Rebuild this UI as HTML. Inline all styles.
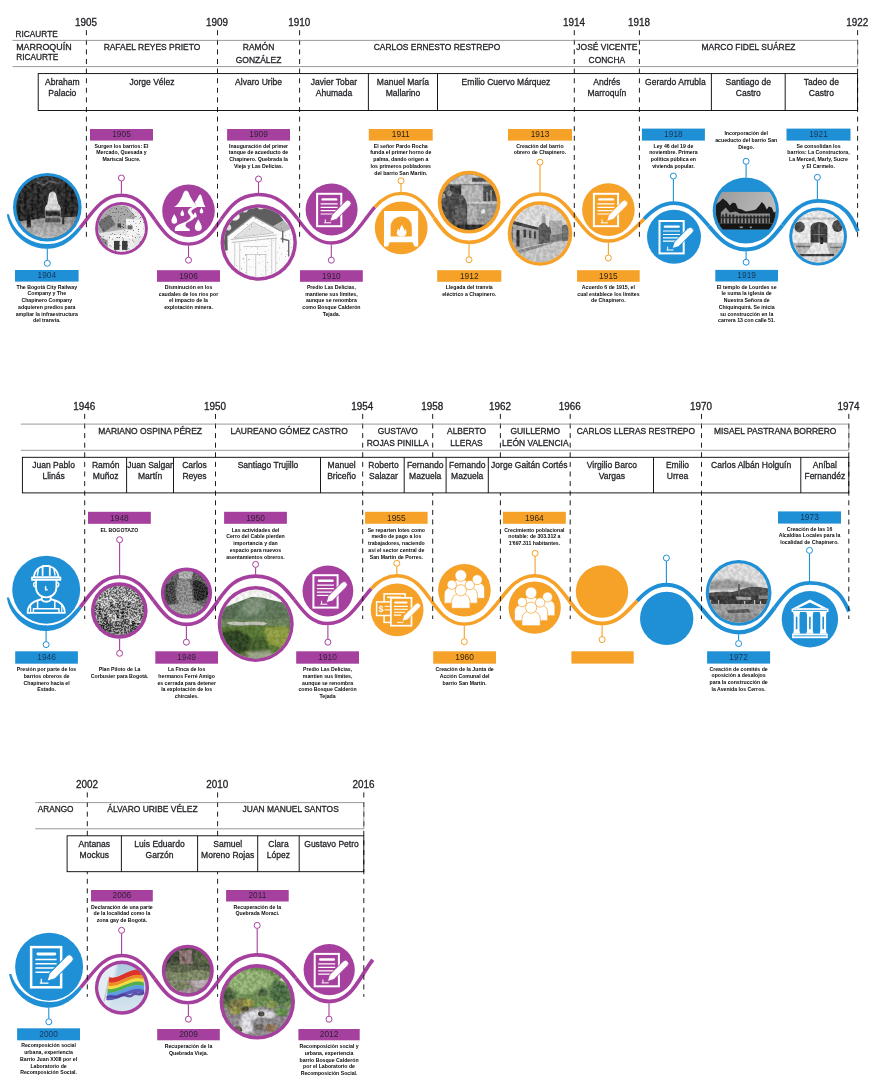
<!DOCTYPE html><html><head><meta charset="utf-8"><title>Timeline</title><style>html,body{margin:0;padding:0;background:#fff}svg{display:block;opacity:0.999}text{font-family:"Liberation Sans",sans-serif}</style></head><body>
<svg width="876" height="1081" viewBox="0 0 876 1081">
<rect width="876" height="1081" fill="#fff"/>
<defs>
<filter id="nz" x="0" y="0" width="100%" height="100%" color-interpolation-filters="sRGB"><feTurbulence type="fractalNoise" baseFrequency="0.3" numOctaves="2" seed="3"/><feColorMatrix type="matrix" values="3.2 0 0 0 -1.1  3.2 0 0 0 -1.1  3.2 0 0 0 -1.1  0 0 0 0 1"/></filter>
<filter id="nz2" x="0" y="0" width="100%" height="100%" color-interpolation-filters="sRGB"><feTurbulence type="fractalNoise" baseFrequency="0.25" numOctaves="3" seed="11"/><feColorMatrix type="matrix" values="3.4 0 0 0 -1.2  3.4 0 0 0 -1.2  3.4 0 0 0 -1.2  0 0 0 0 1"/></filter>
<filter id="sk" x="0" y="0" width="100%" height="100%" color-interpolation-filters="sRGB"><feTurbulence type="fractalNoise" baseFrequency="0.55" numOctaves="2" seed="7"/><feColorMatrix type="matrix" values="0 0 0 0 0.2  0 0 0 0 0.2  0 0 0 0 0.2  -6 0 0 0 2.25"/></filter>
<filter id="sk2" x="0" y="0" width="100%" height="100%" color-interpolation-filters="sRGB"><feTurbulence type="fractalNoise" baseFrequency="0.5" numOctaves="2" seed="21"/><feColorMatrix type="matrix" values="0 0 0 0 0.35  0 0 0 0 0.35  0 0 0 0 0.35  -6 0 0 0 1.95"/></filter>
<filter id="nzc" x="0" y="0" width="100%" height="100%" color-interpolation-filters="sRGB"><feTurbulence type="fractalNoise" baseFrequency="0.55" numOctaves="2" seed="5"/><feColorMatrix type="matrix" values="5 0 0 0 -2  5 0 0 0 -2  5 0 0 0 -2  0 0 0 0 1"/></filter>
<filter id="bl" x="-10%" y="-10%" width="120%" height="120%"><feGaussianBlur stdDeviation="0.7"/></filter>
<filter id="bl2" x="-10%" y="-10%" width="120%" height="120%"><feGaussianBlur stdDeviation="1.3"/></filter>
<linearGradient id="gRoad" x1="0" y1="0" x2="0" y2="1"><stop offset="0" stop-color="#8d8d8d"/><stop offset="1" stop-color="#d0d0d0"/></linearGradient>
<linearGradient id="gSky" x1="0" y1="0" x2="0" y2="1"><stop offset="0" stop-color="#dcdcdc"/><stop offset="1" stop-color="#f2f2f2"/></linearGradient>
<linearGradient id="gCh" x1="0" y1="0" x2="0" y2="1"><stop offset="0" stop-color="#b4b4b4"/><stop offset="0.45" stop-color="#7a7a7a"/><stop offset="0.5" stop-color="#2a2a2a"/><stop offset="1" stop-color="#111"/></linearGradient>
<linearGradient id="gBlue" x1="0" y1="0" x2="0" y2="1"><stop offset="0" stop-color="#a9c8e0"/><stop offset="1" stop-color="#dbe7f1"/></linearGradient>
<linearGradient id="gCh2" x1="0" y1="0" x2="1" y2="0.3"><stop offset="0" stop-color="#989898"/><stop offset="1" stop-color="#bebebe"/></linearGradient>
</defs>
<path d="M9.00 214.30L9.47 215.97L10.01 217.63L10.63 219.25L11.31 220.85L12.07 222.42L12.89 223.95L13.78 225.44L14.74 226.89L15.76 228.30L16.83 229.67L17.97 230.98L19.17 232.25L20.42 233.46L21.72 234.61L23.07 235.71L24.46 236.74L25.91 237.71L27.39 238.62L28.91 239.46L30.47 240.24L32.06 240.94L33.67 241.58L35.32 242.14L36.99 242.63L38.68 243.05L40.38 243.39L42.10 243.66L43.83 243.85L45.56 243.96L47.30 244.00L48.68 244.02L50.03 243.97L51.34 243.87L52.62 243.72L53.87 243.52L55.10 243.28L56.29 242.99L57.46 242.65L58.61 242.27L59.73 241.86L60.83 241.40L61.91 240.90L62.96 240.36L64.00 239.79L65.02 239.18L66.02 238.54L67.01 237.87L67.98 237.16L68.94 236.42L69.88 235.66L70.80 234.86L71.72 234.04L72.62 233.20L73.51 232.33L74.39 231.44L75.26 230.53L76.12 229.60L76.97 228.65L77.81 227.69L78.65 226.71L81.35 228.94L80.52 229.97L79.67 230.98L78.82 231.99L77.95 232.98L77.06 233.96L76.16 234.92L75.25 235.87L74.32 236.79L73.37 237.70L72.40 238.58L71.41 239.44L70.39 240.27L69.36 241.07L68.30 241.85L67.21 242.60L66.10 243.31L64.96 243.98L63.79 244.63L62.59 245.23L61.37 245.79L60.11 246.31L58.82 246.78L57.50 247.21L56.14 247.59L54.75 247.92L53.33 248.21L51.88 248.43L50.39 248.61L48.86 248.73L47.30 248.80L45.37 248.75L43.45 248.62L41.53 248.39L39.63 248.08L37.74 247.67L35.88 247.18L34.04 246.60L32.23 245.93L30.45 245.18L28.71 244.34L27.01 243.43L25.36 242.44L23.75 241.37L22.20 240.22L20.70 239.01L19.26 237.72L17.88 236.37L16.57 234.95L15.33 233.48L14.15 231.95L13.05 230.36L12.03 228.73L11.08 227.05L10.22 225.32L9.43 223.56L8.73 221.76L8.12 219.93L7.59 218.08L7.15 216.20L6.80 214.30Z" fill="#2090D6"/>
<path d="M80.00 227.83C92.06 213.21 101.62 195.30 121.50 195.30C137.91 195.30 146.42 207.50 154.94 219.70" fill="none" stroke="#A6409E" stroke-width="3.5" stroke-linecap="butt"/>
<path d="M154.94 219.70C163.47 231.90 172.02 244.10 188.50 244.10C205.10 244.10 212.71 231.72 221.14 219.35" fill="none" stroke="#A6409E" stroke-width="3.4" stroke-linecap="butt"/>
<path d="M221.14 219.35C229.57 206.97 238.82 194.60 258.70 194.60C278.36 194.60 288.37 206.70 297.58 218.80" fill="none" stroke="#A6409E" stroke-width="3.5" stroke-linecap="butt"/>
<path d="M297.58 218.80C306.79 230.90 315.19 243.00 331.60 243.00C353.33 243.00 361.98 221.79 374.80 207.11" fill="none" stroke="#A6409E" stroke-width="3.4" stroke-linecap="butt"/>
<path d="M374.80 207.11C381.58 199.34 389.53 193.40 401.20 193.40C417.94 193.40 425.88 205.62 434.15 217.85" fill="none" stroke="#F6A128" stroke-width="3.4" stroke-linecap="butt"/>
<path d="M434.15 217.85C442.42 230.08 451.02 242.30 469.10 242.30C487.07 242.30 495.88 230.23 504.65 218.15" fill="none" stroke="#F6A128" stroke-width="3.8" stroke-linecap="butt"/>
<path d="M504.65 218.15C513.43 206.07 522.17 194.00 540.00 194.00C557.61 194.00 566.85 205.78 575.61 217.55" fill="none" stroke="#F6A128" stroke-width="3.7" stroke-linecap="butt"/>
<path d="M575.61 217.55C584.38 229.32 592.68 241.10 608.40 241.10C624.10 241.10 633.62 229.36 644.00 218.95" fill="none" stroke="#F6A128" stroke-width="3.5" stroke-linecap="butt"/>
<path d="M644.00 218.95C652.27 210.65 661.08 203.20 674.00 203.20C690.08 203.20 699.38 214.75 708.98 226.30" fill="none" stroke="#2090D6" stroke-width="3.7" stroke-linecap="butt"/>
<path d="M708.98 226.30C718.59 237.85 728.49 249.40 745.80 249.40C763.53 249.40 773.13 237.28 782.53 225.15" fill="none" stroke="#2090D6" stroke-width="4.0" stroke-linecap="butt"/>
<path d="M782.53 225.15C791.93 213.03 801.14 200.90 818.10 200.90C847.40 200.90 853.45 221.77 857.90 231.32" fill="none" stroke="#2090D6" stroke-width="3.9" stroke-linecap="butt"/>
<text transform="translate(86.00,25.70) scale(0.99,1)" font-size="10" text-anchor="middle" font-weight="normal" fill="#1e1f24" stroke="#1e1f24" stroke-width="0.3">1905</text>
<line x1="86.4" y1="30.2" x2="86.4" y2="236.8" stroke="#111" stroke-width="0.95" stroke-dasharray="5 4.6"/>
<text transform="translate(217.10,25.70) scale(0.99,1)" font-size="10" text-anchor="middle" font-weight="normal" fill="#1e1f24" stroke="#1e1f24" stroke-width="0.3">1909</text>
<line x1="217.5" y1="30.2" x2="217.5" y2="236.8" stroke="#111" stroke-width="0.95" stroke-dasharray="5 4.6"/>
<text transform="translate(299.20,25.70) scale(0.99,1)" font-size="10" text-anchor="middle" font-weight="normal" fill="#1e1f24" stroke="#1e1f24" stroke-width="0.3">1910</text>
<line x1="299.6" y1="30.2" x2="299.6" y2="236.8" stroke="#111" stroke-width="0.95" stroke-dasharray="5 4.6"/>
<text transform="translate(573.90,25.70) scale(0.99,1)" font-size="10" text-anchor="middle" font-weight="normal" fill="#1e1f24" stroke="#1e1f24" stroke-width="0.3">1914</text>
<line x1="574.3" y1="30.2" x2="574.3" y2="236.8" stroke="#111" stroke-width="0.95" stroke-dasharray="5 4.6"/>
<text transform="translate(639.00,25.70) scale(0.99,1)" font-size="10" text-anchor="middle" font-weight="normal" fill="#1e1f24" stroke="#1e1f24" stroke-width="0.3">1918</text>
<line x1="639.4" y1="30.2" x2="639.4" y2="236.8" stroke="#111" stroke-width="0.95" stroke-dasharray="5 4.6"/>
<text transform="translate(857.20,25.70) scale(0.99,1)" font-size="10" text-anchor="middle" font-weight="normal" fill="#1e1f24" stroke="#1e1f24" stroke-width="0.3">1922</text>
<line x1="857.6" y1="30.2" x2="857.6" y2="236.8" stroke="#111" stroke-width="0.95" stroke-dasharray="5 4.6"/>
<path d="M12.5 40.4H857.6M12.5 66.6H857.6" stroke="#7a7a7a" stroke-width="0.75" fill="none"/>
<path d="M857.6 40.4V66.6" stroke="#7a7a7a" stroke-width="0.75" fill="none"/>
<text transform="translate(151.95,50.20) scale(0.93,1)" font-size="9.1" text-anchor="middle" font-weight="normal" fill="#1e1f24" stroke="#1e1f24" stroke-width="0.3">RAFAEL REYES PRIETO</text>
<text transform="translate(258.55,50.20) scale(0.93,1)" font-size="9.1" text-anchor="middle" font-weight="normal" fill="#1e1f24" stroke="#1e1f24" stroke-width="0.3">RAMÓN</text>
<text transform="translate(258.55,62.60) scale(0.93,1)" font-size="9.1" text-anchor="middle" font-weight="normal" fill="#1e1f24" stroke="#1e1f24" stroke-width="0.3">GONZÁLEZ</text>
<text transform="translate(436.95,50.20) scale(0.93,1)" font-size="9.1" text-anchor="middle" font-weight="normal" fill="#1e1f24" stroke="#1e1f24" stroke-width="0.3">CARLOS ERNESTO RESTREPO</text>
<text transform="translate(606.85,50.20) scale(0.93,1)" font-size="9.1" text-anchor="middle" font-weight="normal" fill="#1e1f24" stroke="#1e1f24" stroke-width="0.3">JOSÉ VICENTE</text>
<text transform="translate(606.85,62.60) scale(0.93,1)" font-size="9.1" text-anchor="middle" font-weight="normal" fill="#1e1f24" stroke="#1e1f24" stroke-width="0.3">CONCHA</text>
<text transform="translate(748.50,50.20) scale(0.93,1)" font-size="9.1" text-anchor="middle" font-weight="normal" fill="#1e1f24" stroke="#1e1f24" stroke-width="0.3">MARCO FIDEL SUÁREZ</text>
<text transform="translate(15.60,37.20) scale(0.91,1)" font-size="9.1" text-anchor="start" font-weight="normal" fill="#1e1f24" stroke="#1e1f24" stroke-width="0.3">RICAURTE</text>
<text transform="translate(16.20,50.30) scale(0.98,1)" font-size="9.1" text-anchor="start" font-weight="normal" fill="#1e1f24" stroke="#1e1f24" stroke-width="0.3">MARROQUÍN</text>
<text transform="translate(16.20,59.80) scale(0.91,1)" font-size="9.1" text-anchor="start" font-weight="normal" fill="#1e1f24" stroke="#1e1f24" stroke-width="0.3">RICAURTE</text>
<rect x="39.40" y="73.60" width="45.80" height="36.9" fill="#fff"/>
<rect x="87.60" y="73.60" width="128.70" height="36.9" fill="#fff"/>
<rect x="218.70" y="73.60" width="79.70" height="36.9" fill="#fff"/>
<rect x="300.80" y="73.60" width="66.40" height="36.9" fill="#fff"/>
<rect x="369.60" y="73.60" width="66.70" height="36.9" fill="#fff"/>
<rect x="438.70" y="73.60" width="134.40" height="36.9" fill="#fff"/>
<rect x="575.50" y="73.60" width="62.70" height="36.9" fill="#fff"/>
<rect x="640.60" y="73.60" width="69.60" height="36.9" fill="#fff"/>
<rect x="712.60" y="73.60" width="71.40" height="36.9" fill="#fff"/>
<rect x="786.40" y="73.60" width="70.00" height="36.9" fill="#fff"/>
<rect x="38.2" y="73.6" width="819.4" height="36.9" fill="none" stroke="#000" stroke-width="0.9"/>
<path d="M368.4 73.6V110.5M437.5 73.6V110.5M711.4 73.6V110.5M785.2 73.6V110.5" stroke="#000" stroke-width="0.9" fill="none"/>
<text transform="translate(62.30,85.00) scale(0.9,1)" font-size="9.5" text-anchor="middle" font-weight="normal" fill="#1e1f24" stroke="#1e1f24" stroke-width="0.3">Abraham</text>
<text transform="translate(62.30,95.90) scale(0.9,1)" font-size="9.5" text-anchor="middle" font-weight="normal" fill="#1e1f24" stroke="#1e1f24" stroke-width="0.3">Palacio</text>
<text transform="translate(151.95,85.00) scale(0.9,1)" font-size="9.5" text-anchor="middle" font-weight="normal" fill="#1e1f24" stroke="#1e1f24" stroke-width="0.3">Jorge Vélez</text>
<text transform="translate(258.55,85.00) scale(0.9,1)" font-size="9.5" text-anchor="middle" font-weight="normal" fill="#1e1f24" stroke="#1e1f24" stroke-width="0.3">Alvaro Uribe</text>
<text transform="translate(334.00,85.00) scale(0.9,1)" font-size="9.5" text-anchor="middle" font-weight="normal" fill="#1e1f24" stroke="#1e1f24" stroke-width="0.3">Javier Tobar</text>
<text transform="translate(334.00,95.90) scale(0.9,1)" font-size="9.5" text-anchor="middle" font-weight="normal" fill="#1e1f24" stroke="#1e1f24" stroke-width="0.3">Ahumada</text>
<text transform="translate(402.95,85.00) scale(0.9,1)" font-size="9.5" text-anchor="middle" font-weight="normal" fill="#1e1f24" stroke="#1e1f24" stroke-width="0.3">Manuel María</text>
<text transform="translate(402.95,95.90) scale(0.9,1)" font-size="9.5" text-anchor="middle" font-weight="normal" fill="#1e1f24" stroke="#1e1f24" stroke-width="0.3">Mallarino</text>
<text transform="translate(505.90,85.00) scale(0.9,1)" font-size="9.5" text-anchor="middle" font-weight="normal" fill="#1e1f24" stroke="#1e1f24" stroke-width="0.3">Emilio Cuervo Márquez</text>
<text transform="translate(606.85,85.00) scale(0.9,1)" font-size="9.5" text-anchor="middle" font-weight="normal" fill="#1e1f24" stroke="#1e1f24" stroke-width="0.3">Andrés</text>
<text transform="translate(606.85,95.90) scale(0.9,1)" font-size="9.5" text-anchor="middle" font-weight="normal" fill="#1e1f24" stroke="#1e1f24" stroke-width="0.3">Marroquín</text>
<text transform="translate(675.40,85.00) scale(0.9,1)" font-size="9.5" text-anchor="middle" font-weight="normal" fill="#1e1f24" stroke="#1e1f24" stroke-width="0.3">Gerardo Arrubla</text>
<text transform="translate(748.30,85.00) scale(0.9,1)" font-size="9.5" text-anchor="middle" font-weight="normal" fill="#1e1f24" stroke="#1e1f24" stroke-width="0.3">Santiago de</text>
<text transform="translate(748.30,95.90) scale(0.9,1)" font-size="9.5" text-anchor="middle" font-weight="normal" fill="#1e1f24" stroke="#1e1f24" stroke-width="0.3">Castro</text>
<text transform="translate(821.40,85.00) scale(0.9,1)" font-size="9.5" text-anchor="middle" font-weight="normal" fill="#1e1f24" stroke="#1e1f24" stroke-width="0.3">Tadeo de</text>
<text transform="translate(821.40,95.90) scale(0.9,1)" font-size="9.5" text-anchor="middle" font-weight="normal" fill="#1e1f24" stroke="#1e1f24" stroke-width="0.3">Castro</text>
<line x1="47.3" y1="248.6" x2="47.3" y2="260.3" stroke="#2090D6" stroke-width="1.1"/>
<circle cx="47.3" cy="263.3" r="3.0" fill="#fff" stroke="#2090D6" stroke-width="1"/>
<line x1="121.4" y1="193.6" x2="121.4" y2="181.0" stroke="#A6409E" stroke-width="1.1"/>
<circle cx="121.4" cy="178" r="3.0" fill="#fff" stroke="#A6409E" stroke-width="1"/>
<line x1="188.5" y1="245.8" x2="188.5" y2="257.2" stroke="#A6409E" stroke-width="1.1"/>
<circle cx="188.5" cy="260.2" r="3.0" fill="#fff" stroke="#A6409E" stroke-width="1"/>
<line x1="258.5" y1="192.9" x2="258.5" y2="182.0" stroke="#A6409E" stroke-width="1.1"/>
<circle cx="258.5" cy="179" r="3.0" fill="#fff" stroke="#A6409E" stroke-width="1"/>
<line x1="331.3" y1="244.7" x2="331.3" y2="257.2" stroke="#A6409E" stroke-width="1.1"/>
<circle cx="331.3" cy="260.2" r="3.0" fill="#fff" stroke="#A6409E" stroke-width="1"/>
<line x1="401" y1="191.7" x2="401" y2="183.8" stroke="#F6A128" stroke-width="1.1"/>
<circle cx="401" cy="180.8" r="3.0" fill="#fff" stroke="#F6A128" stroke-width="1"/>
<line x1="469" y1="244.2" x2="469" y2="256.7" stroke="#F6A128" stroke-width="1.1"/>
<circle cx="469" cy="259.7" r="3.0" fill="#fff" stroke="#F6A128" stroke-width="1"/>
<line x1="540" y1="192.2" x2="540" y2="165.2" stroke="#F6A128" stroke-width="1.1"/>
<circle cx="540" cy="162.2" r="3.0" fill="#fff" stroke="#F6A128" stroke-width="1"/>
<line x1="608.4" y1="242.8" x2="608.4" y2="255.0" stroke="#F6A128" stroke-width="1.1"/>
<circle cx="608.4" cy="258" r="3.0" fill="#fff" stroke="#F6A128" stroke-width="1"/>
<line x1="673.4" y1="201.4" x2="673.4" y2="179.0" stroke="#2090D6" stroke-width="1.1"/>
<circle cx="673.4" cy="176" r="3.0" fill="#fff" stroke="#2090D6" stroke-width="1"/>
<line x1="746.1" y1="177.6" x2="746.1" y2="164.3" stroke="#2090D6" stroke-width="1.1"/>
<circle cx="746.1" cy="161.3" r="3.0" fill="#fff" stroke="#2090D6" stroke-width="1"/>
<line x1="746.1" y1="251.4" x2="746.1" y2="259.2" stroke="#2090D6" stroke-width="1.1"/>
<circle cx="746.1" cy="262.2" r="3.0" fill="#fff" stroke="#2090D6" stroke-width="1"/>
<line x1="817.4" y1="199" x2="817.4" y2="180.3" stroke="#2090D6" stroke-width="1.1"/>
<circle cx="817.4" cy="177.3" r="3.0" fill="#fff" stroke="#2090D6" stroke-width="1"/>
<circle cx="47.3" cy="207.3" r="34.3" fill="#2090D6"/>
<clipPath id="c1"><circle cx="0" cy="0" r="31.10"/></clipPath>
<g transform="translate(47.3,207.3)" clip-path="url(#c1)"><rect x="-35" y="-35" width="70" height="70" fill="#242424"/><path d="M-35 15L-5 11L35 9V35H-35Z" fill="url(#gRoad)"/><path d="M-35 -35H35V-24L-35 -18Z" fill="#2e2e2e"/><path d="M-28 -30V14M-22 -30V13M-15 -28V12M-9 -24V11M19 -28V9M25 -24V9" stroke="#141414" stroke-width="2.2"/><path d="M-12 -26L-4 -22L2 -26L12 -24" stroke="#555" stroke-width="1.5" fill="none"/><path d="M1.5 -12C2.5 -17 8 -17 9 -12L11 -3C13 -2 13.5 1 13.5 3H-2.5C-2.5 1 -2 -2 0 -3Z" fill="#e4e4e4" filter="url(#bl)"/><rect x="-2.5" y="2.5" width="16" height="13" fill="#8a8a8a"/><rect x="-1.5" y="4" width="14" height="4.5" fill="#1d1d1d"/><rect x="-2" y="11" width="15" height="4" fill="#4c4c4c"/><rect x="-20.5" y="9" width="4" height="11" fill="#161616"/><rect x="15" y="4" width="2" height="13" fill="#1f1f1f"/><rect x="-34.3" y="-34.3" width="68.6" height="68.6" filter="url(#nz)" opacity="0.12"/></g>
<circle cx="121.5" cy="228.4" r="26.4" fill="#A6409E"/>
<clipPath id="c2"><circle cx="0" cy="0" r="23.40"/></clipPath>
<g transform="translate(121.5,228.4)" clip-path="url(#c2)"><rect x="-30" y="-30" width="60" height="60" fill="#e6e6e6"/><path d="M-30 -16L-10 -24L6 -22L14 -12L8 0L-30 6Z" fill="#a8a8a8"/><path d="M-24 -6L-12 -14L-6 -4L-18 4Z" fill="#6f6f6f"/><path d="M4 -10L22 -8L24 8L6 6Z" fill="#f4f4f4"/><rect x="-12" y="7" width="24" height="3" fill="#fafafa"/><rect x="-12" y="10" width="24" height="14" fill="#efefef"/><rect x="-7.5" y="12.5" width="5.5" height="9" fill="#3c3c3c"/><rect x="0.5" y="12.5" width="5.5" height="9" fill="#3c3c3c"/><rect x="-4" y="-5" width="3.5" height="4" fill="#444"/><rect x="6" y="-3" width="5" height="4" fill="#666"/><path d="M-26 6L-14 12V24H-26Z" fill="#8a8a8a"/><rect x="-26.4" y="-26.4" width="52.8" height="52.8" filter="url(#sk)" opacity="0.8"/></g>
<circle cx="188.5" cy="210.7" r="26.3" fill="#A6409E"/>
<g transform="translate(188.5,210.7)"><path d="M-14.6 -3.6 C-9.5 -6.5 -6.8 -13 -5 -18 Q-2.4 -22.6 0.2 -18 C2 -13 5.5 -7 10.4 -3.6 Z" fill="#fff"/><path d="M6.2 -8.5 C8 -10.5 9.3 -13 10.2 -15 Q11.7 -17.6 13 -15 C14 -11.5 15 -7 17 -3.6 H8.5 Z" fill="#fff"/><path d="M3.6 -3.6 H8.8 C5 -1.5 2.6 -0.8 3 1.2 C3.6 3.6 7.2 4.2 5.6 7.2 C4 10.2 -1 10.6 -2.6 13.2 C-3.8 15.4 -1.6 17.2 1.2 18.2 V20.4 H-13.4 C-14.4 17.6 -12.8 15 -9 13.6 C-4 11.8 1.6 9.4 2 6.6 C2.3 4.4 -1.2 3.4 -0.6 0.4 C0 -1.8 2.4 -2.6 3.6 -3.6Z" fill="#fff"/><path transform="translate(-14.2,8.2) scale(0.95)" d="M0 -5.2 C2 -1.5 3 0 3 2 A3 3 0 0 1 -3 2 C-3 0 -2 -1.5 0 -5.2Z" fill="#fff"/><path transform="translate(9.8,14.6) scale(1.15)" d="M0 -5.2 C2 -1.5 3 0 3 2 A3 3 0 0 1 -3 2 C-3 0 -2 -1.5 0 -5.2Z" fill="#fff"/><path transform="translate(-6.2,2.2) scale(0.62)" d="M0 -5.2 C2 -1.5 3 0 3 2 A3 3 0 0 1 -3 2 C-3 0 -2 -1.5 0 -5.2Z" fill="#fff"/><path transform="translate(6.6,4.2) scale(0.55)" d="M0 -5.2 C2 -1.5 3 0 3 2 A3 3 0 0 1 -3 2 C-3 0 -2 -1.5 0 -5.2Z" fill="#fff"/><path transform="translate(13,-0.2) scale(0.6)" d="M0 -5.2 C2 -1.5 3 0 3 2 A3 3 0 0 1 -3 2 C-3 0 -2 -1.5 0 -5.2Z" fill="#fff"/></g>
<circle cx="258.7" cy="242.5" r="38.2" fill="#A6409E"/>
<clipPath id="c3"><circle cx="0" cy="0" r="34.70"/></clipPath>
<g transform="translate(258.7,242.5)" clip-path="url(#c3)"><rect x="-40" y="-40" width="80" height="80" fill="#fbfbfb"/><path d="M-38 -4L-34 -14L-20 -31L-9 -37L10 -36L19 -30L25 -22L14 -16L-5.7 -26.5L-31.3 -6.4L-31 8H-38Z" fill="#5e5e5e"/><path d="M14 -16L25 -22L33 -14L24 -10Z" fill="#b5b5b5"/><path d="M-24 -22A5 4 0 1 1 -23.9 -22Z" fill="#f0f0f0"/><path d="M-14 -30A3 2.5 0 1 1 -13.9 -30ZM2 -33A3 2 0 1 1 2.1 -33ZM-30 -12A2.5 3 0 1 1 -29.9 -12Z" fill="#dcdcdc"/><path d="M-31.3 -6.4L-5.7 -26.5L22 -11.6" fill="none" stroke="#8f8f8f" stroke-width="1.2"/><path d="M-25 -4.5L-5.7 -20.5L15 -9.5Z" fill="#e2e2e2" stroke="#b0b0b0" stroke-width="0.6"/><path d="M-28 -3L18 -7.5M-27 0L18 -4.5" stroke="#a8a8a8" stroke-width="0.7"/><path d="M-24 0V38M-19 0V38M13 -4V38M17 -4V38M-15 4H9M-13 12H8M-12 12V38M7 12V38M-3 12V38" stroke="#c4c4c4" stroke-width="0.8" fill="none"/><path d="M24 -12V0M22 -4L30 -2V14" stroke="#6a6a6a" stroke-width="1.4" fill="none"/><rect x="-38.2" y="-38.2" width="76.4" height="76.4" filter="url(#sk2)" opacity="0.5"/></g>
<circle cx="331.6" cy="209.6" r="26" fill="#A6409E"/>
<g transform="translate(331.6,209.6) scale(1.0)"><rect x="-14.5" y="-15.8" width="24.2" height="32.4" fill="none" stroke="#fff" stroke-width="2"/><path d="M-9 -10.2H4.6" stroke="#fff" stroke-width="2.4" stroke-linecap="round"/><path d="M-11 -5.8H6M-11 -2.3H6M-11 1.1H5M-11 4.4H2" stroke="#fff" stroke-width="1.2"/><path d="M-7.5 13.2H-0.5M-6.3 13V9.8" stroke="#fff" stroke-width="1" fill="none"/><g transform="translate(-1.8,11.8) rotate(-45)"><path d="M0 0L6 -3.2H25.5A3.2 3.2 0 0 1 25.5 3.2H6Z" fill="#fff" stroke="#A6409E" stroke-width="0.9"/></g></g>
<circle cx="401.2" cy="227.8" r="26.4" fill="#F6A128"/>
<g transform="translate(401.2,227.8)"><path d="M-17.2 -16.8H17V18.8H13.2L11.5 14.5H-11.5L-13.2 18.8H-17.2Z" fill="#fff"/><path d="M-10.6 8.8V-1 A10.6 10.2 0 0 1 10.6 -1V8.8Z" fill="#F6A128"/><path d="M-1 8.8C-5.5 8 -5 3.5 -2.6 0.8 C-2.2 2.2 -1.5 2.6 -1.2 2.6 C-1.6 0 0 -2.2 1 -3 C1 -1 3.2 0.6 3.4 3 C4 2.6 4.2 1.8 4.2 1.2 C6.2 4 5.6 8.2 1.6 8.8Z" fill="#fff"/></g>
<circle cx="469.1" cy="202.2" r="31.4" fill="#F6A128"/>
<clipPath id="c4"><circle cx="0" cy="0" r="27.60"/></clipPath>
<g transform="translate(469.1,202.2)" clip-path="url(#c4)"><rect x="-33" y="-33" width="66" height="66" fill="#6a6a6a"/><path d="M-20 -26L-8 -29H20L26 -24V-18H-20Z" fill="#c9c9c9"/><rect x="3" y="-24.5" width="14" height="4" fill="#4a4a4a"/><rect x="-19" y="-16.5" width="11" height="9" fill="#2f2f2f"/><rect x="-7.8" y="-17" width="21.6" height="16.5" fill="#b9b9b9"/><rect x="14.8" y="-16" width="13" height="15.5" fill="#474747"/><path d="M18 -10V-1M22 -12V-1" stroke="#9a9a9a" stroke-width="1.6"/><rect x="-7" y="-0.5" width="36" height="23" fill="#9c9c9c"/><rect x="-7" y="-0.8" width="36" height="2.4" fill="#d2d2d2"/><rect x="-2" y="4" width="10" height="16" fill="#b4b4b4"/><path d="M-28 -8C-24 -13 -16 -12 -12 -8L-8 -6C-4 -6 -2 0 -2 6V26H-26Z" fill="#444" filter="url(#bl)"/><circle cx="-20" cy="-9" r="2.8" fill="#8e8e8e"/><circle cx="-8" cy="-4.5" r="2.6" fill="#5a5a5a"/><circle cx="-26" cy="-6" r="2.4" fill="#a0a0a0"/><path d="M-14 4L-4 2L-3 20L-14 22Z" fill="#5c5c5c"/><rect x="-12" y="22.5" width="32" height="8" fill="#262626"/><circle cx="13.8" cy="9" r="2.3" fill="#eaeaea"/><rect x="-31.4" y="-31.4" width="62.8" height="62.8" filter="url(#nz)" opacity="0.12"/></g>
<circle cx="540" cy="233.5" r="32.3" fill="#F6A128"/>
<clipPath id="c5"><circle cx="0" cy="0" r="28.70"/></clipPath>
<g transform="translate(540,233.5)" clip-path="url(#c5)"><rect x="-34" y="-34" width="68" height="68" fill="url(#gSky)"/><path d="M9 -13L22.5 -13V-6L30 -8V8L9 10Z" fill="#ababab"/><path d="M2 -20L5 -20L6 -8H1Z" fill="#b0b0b0"/><path d="M22 -8C26 -10 30 -8 30 -2V7L22 8Z" fill="#6e6e6e" filter="url(#bl)"/><path d="M-28 -12L-1.5 -5V12L-28 17Z" fill="#a9a9a9"/><path d="M-28 -13L-1.5 -6L-1.5 -3.6L-28 -9.5Z" fill="#3c3c3c"/><rect x="-23.5" y="-3.5" width="3" height="16.5" fill="#262626"/><rect x="-16.5" y="-4" width="2.6" height="8" fill="#3a3a3a"/><rect x="-11" y="-3" width="2.4" height="7.5" fill="#444"/><rect x="-6" y="-2" width="2.2" height="7" fill="#4a4a4a"/><path d="M-28 -12V17" stroke="#777" stroke-width="2"/><path d="M-1.5 -6C1 -12 6 -12 8 -6C11 -8 12 -2 10 2V9L-1.5 11Z" fill="#565656" filter="url(#bl)"/><path d="M10 2L22 0V7L10 9Z" fill="#7a7a7a"/><path d="M-30 17L-1.5 11L30 7V36H-30Z" fill="#cacaca"/><path d="M-26 17.5L-1.5 11.5L14 9L-20 20Z" fill="#8c8c8c"/><rect x="-32.3" y="-32.3" width="64.6" height="64.6" filter="url(#nz)" opacity="0.1"/></g>
<circle cx="608.4" cy="209.6" r="26.3" fill="#F6A128"/>
<g transform="translate(608.4,209.6) scale(1.0)"><rect x="-14.5" y="-15.8" width="24.2" height="32.4" fill="none" stroke="#fff" stroke-width="2"/><path d="M-9 -10.2H4.6" stroke="#fff" stroke-width="2.4" stroke-linecap="round"/><path d="M-11 -5.8H6M-11 -2.3H6M-11 1.1H5M-11 4.4H2" stroke="#fff" stroke-width="1.2"/><path d="M-7.5 13.2H-0.5M-6.3 13V9.8" stroke="#fff" stroke-width="1" fill="none"/><g transform="translate(-1.8,11.8) rotate(-45)"><path d="M0 0L6 -3.2H25.5A3.2 3.2 0 0 1 25.5 3.2H6Z" fill="#fff" stroke="#F6A128" stroke-width="0.9"/></g></g>
<circle cx="674" cy="236.8" r="27" fill="#2090D6"/>
<g transform="translate(674,236.8) scale(1.0)"><rect x="-14.5" y="-15.8" width="24.2" height="32.4" fill="none" stroke="#fff" stroke-width="2"/><path d="M-9 -10.2H4.6" stroke="#fff" stroke-width="2.4" stroke-linecap="round"/><path d="M-11 -5.8H6M-11 -2.3H6M-11 1.1H5M-11 4.4H2" stroke="#fff" stroke-width="1.2"/><path d="M-7.5 13.2H-0.5M-6.3 13V9.8" stroke="#fff" stroke-width="1" fill="none"/><g transform="translate(-1.8,11.8) rotate(-45)"><path d="M0 0L6 -3.2H25.5A3.2 3.2 0 0 1 25.5 3.2H6Z" fill="#fff" stroke="#2090D6" stroke-width="0.9"/></g></g>
<circle cx="745.8" cy="210.5" r="33.1" fill="#2090D6"/>
<clipPath id="c6"><circle cx="0" cy="0" r="30.10"/></clipPath>
<g transform="translate(745.8,210.5)" clip-path="url(#c6)"><rect x="-34" y="-18.6" width="68" height="37.3" fill="url(#gCh2)"/><path d="M-30 13L-30 -6L-26 -9L-23 -12L-19 -9L-16 -5L-13 -8L-10 -7L-8 -2L-4 -1L0 1L6 0L10 -1L13.5 -5L16 -8.5L18.5 -6L21 -1L23 -4L26 -3L28 2L30 1V13Z" fill="#1b1b1b"/><path d="M-25 2L-20 -3L-16 2L-10 1L-6 3H24V13H-25Z" fill="#8e8e8e"/><path d="M-23 4V13M-19.5 3V13M-16 4V13M-12.5 4V13M-9 5V13M-5.5 5V13M-2 5V13M1.5 5V13M5 5V13M8.5 5V13M12 5V13M15.5 5V13M19 5V13M22 5V13" stroke="#2a2a2a" stroke-width="1.9"/><path d="M-25 7H24" stroke="#2a2a2a" stroke-width="1.4"/><rect x="-34" y="13" width="68" height="6" fill="#151515"/><rect x="-6" y="16" width="3" height="1.6" fill="#999"/><rect x="4" y="16" width="2" height="1.6" fill="#999"/></g>
<circle cx="818.1" cy="236.5" r="28.9" fill="#2090D6"/>
<clipPath id="c7"><circle cx="0" cy="0" r="25.90"/></clipPath>
<g transform="translate(818.1,236.5)" clip-path="url(#c7)"><rect x="-30" y="-30" width="60" height="60" fill="#f2f2f2"/><rect x="-30" y="-19" width="60" height="2.2" fill="#c4c4c4"/><path d="M-7.5 6.3V-9A8.4 5.6 0 0 1 9.3 -9V6.3Z" fill="#3a3a3a"/><path d="M-5 -2H7M1 -12V6" stroke="#7a7a7a" stroke-width="1.1"/><ellipse cx="-18.5" cy="-9.5" rx="5.2" ry="5.4" fill="#444" filter="url(#bl)"/><ellipse cx="19.5" cy="-10.5" rx="5.4" ry="6" fill="#444" filter="url(#bl)"/><path d="M-30 6.3H30V30H-30Z" fill="#b9b9b9"/><path d="M-4 6.3L8 6.3L12 18H-14Z" fill="#ededed"/><path d="M-22 10H-8M12 11H24" stroke="#6a6a6a" stroke-width="1.6"/><path d="M-20 18.5H16" stroke="#3e3e3e" stroke-width="1.8"/><rect x="-30" y="20.5" width="60" height="10" fill="#dedede"/><rect x="2.2" y="1" width="2.8" height="6.5" fill="#1e1e1e"/><rect x="-28.9" y="-28.9" width="57.8" height="57.8" filter="url(#nz)" opacity="0.1"/></g>
<rect x="15" y="270" width="63.60" height="11.6" fill="#2090D6"/>
<text transform="translate(46.80,278.30) scale(0.87,1)" font-size="9.6" text-anchor="middle" font-weight="normal" fill="#14365a" >1904</text>
<text font-size="5.2" font-weight="bold" text-anchor="middle" fill="#0c0c0c"><tspan x="46.80" y="288.70">The Bogotá City Railway</tspan><tspan x="46.80" y="295.45">Company y The</tspan><tspan x="46.80" y="302.20">Chapinero Company</tspan><tspan x="46.80" y="308.95">adquieren predios para</tspan><tspan x="46.80" y="315.70">ampliar la infraestructura</tspan><tspan x="46.80" y="322.45">del tranvía.</tspan></text>
<rect x="90" y="129" width="63.00" height="11.6" fill="#A6409E"/>
<text transform="translate(121.50,137.30) scale(0.87,1)" font-size="9.6" text-anchor="middle" font-weight="normal" fill="#33203a" >1905</text>
<text font-size="5.2" font-weight="bold" text-anchor="middle" fill="#0c0c0c"><tspan x="121.50" y="147.70">Surgen los barrios: El</tspan><tspan x="121.50" y="154.45">Mercado, Quesada y</tspan><tspan x="121.50" y="161.20">Mariscal Sucre.</tspan></text>
<rect x="157" y="270.2" width="63.00" height="11.6" fill="#A6409E"/>
<text transform="translate(188.50,278.50) scale(0.87,1)" font-size="9.6" text-anchor="middle" font-weight="normal" fill="#33203a" >1906</text>
<text font-size="5.2" font-weight="bold" text-anchor="middle" fill="#0c0c0c"><tspan x="188.50" y="288.90">Disminución en los</tspan><tspan x="188.50" y="295.65">caudales de los ríos por</tspan><tspan x="188.50" y="302.40">el impacto de la</tspan><tspan x="188.50" y="309.15">explotación minera.</tspan></text>
<rect x="227.1" y="129" width="62.90" height="11.6" fill="#A6409E"/>
<text transform="translate(258.55,137.30) scale(0.87,1)" font-size="9.6" text-anchor="middle" font-weight="normal" fill="#33203a" >1909</text>
<text font-size="5.2" font-weight="bold" text-anchor="middle" fill="#0c0c0c"><tspan x="258.55" y="147.70">Inauguración del primer</tspan><tspan x="258.55" y="154.45">tanque de acueducto de</tspan><tspan x="258.55" y="161.20">Chapinero. Quebrada la</tspan><tspan x="258.55" y="167.95">Vieja y Las Delicias.</tspan></text>
<rect x="300" y="270.2" width="62.80" height="11.6" fill="#A6409E"/>
<text transform="translate(331.40,278.50) scale(0.87,1)" font-size="9.6" text-anchor="middle" font-weight="normal" fill="#33203a" >1910</text>
<text font-size="5.2" font-weight="bold" text-anchor="middle" fill="#0c0c0c"><tspan x="331.40" y="288.90">Predio Las Delicias,</tspan><tspan x="331.40" y="295.65">mantiene sus límites,</tspan><tspan x="331.40" y="302.40">aunque se renombra</tspan><tspan x="331.40" y="309.15">como Bosque Calderón</tspan><tspan x="331.40" y="315.90">Tejada.</tspan></text>
<rect x="368.8" y="129" width="63.90" height="11.6" fill="#F6A128"/>
<text transform="translate(400.75,137.30) scale(0.87,1)" font-size="9.6" text-anchor="middle" font-weight="normal" fill="#33260f" >1911</text>
<text font-size="5.2" font-weight="bold" text-anchor="middle" fill="#0c0c0c"><tspan x="400.75" y="147.70">El señor Pardo Rocha</tspan><tspan x="400.75" y="154.45">funda el primer horno de</tspan><tspan x="400.75" y="161.20">palma, dando origen a</tspan><tspan x="400.75" y="167.95">los primeros pobladores</tspan><tspan x="400.75" y="174.70">del barrio San Martín.</tspan></text>
<rect x="437.2" y="270.2" width="64.10" height="11.6" fill="#F6A128"/>
<text transform="translate(469.25,278.50) scale(0.87,1)" font-size="9.6" text-anchor="middle" font-weight="normal" fill="#33260f" >1912</text>
<text font-size="5.2" font-weight="bold" text-anchor="middle" fill="#0c0c0c"><tspan x="469.25" y="288.90">Llegada del tranvía</tspan><tspan x="469.25" y="295.65">eléctrico a Chapinero.</tspan></text>
<rect x="508" y="129" width="64.00" height="11.6" fill="#F6A128"/>
<text transform="translate(540.00,137.30) scale(0.87,1)" font-size="9.6" text-anchor="middle" font-weight="normal" fill="#33260f" >1913</text>
<text font-size="5.2" font-weight="bold" text-anchor="middle" fill="#0c0c0c"><tspan x="540.00" y="147.70">Creación del barrio</tspan><tspan x="540.00" y="154.45">obrero de Chapinero.</tspan></text>
<rect x="577.1" y="270.2" width="62.60" height="11.6" fill="#F6A128"/>
<text transform="translate(608.40,278.50) scale(0.87,1)" font-size="9.6" text-anchor="middle" font-weight="normal" fill="#33260f" >1915</text>
<text font-size="5.2" font-weight="bold" text-anchor="middle" fill="#0c0c0c"><tspan x="608.40" y="288.90">Acuerdo 6 de 1915, el</tspan><tspan x="608.40" y="295.65">cual establece los límites</tspan><tspan x="608.40" y="302.40">de Chapinero.</tspan></text>
<rect x="641.9" y="128.6" width="63.00" height="12" fill="#2090D6"/>
<text transform="translate(673.40,137.30) scale(0.87,1)" font-size="9.6" text-anchor="middle" font-weight="normal" fill="#14365a" >1918</text>
<text font-size="5.2" font-weight="bold" text-anchor="middle" fill="#0c0c0c"><tspan x="673.40" y="147.70">Ley 46 del 19 de</tspan><tspan x="673.40" y="154.45">noviembre. Primera</tspan><tspan x="673.40" y="161.20">política pública en</tspan><tspan x="673.40" y="167.95">vivienda popular.</tspan></text>
<text font-size="5.2" font-weight="bold" text-anchor="middle" fill="#0c0c0c"><tspan x="746.20" y="135.30">Incorporación del</tspan><tspan x="746.20" y="142.05">acueducto del barrio San</tspan><tspan x="746.20" y="148.80">Diego.</tspan></text>
<rect x="715.3" y="269.9" width="62.70" height="11.6" fill="#2090D6"/>
<text transform="translate(746.65,278.20) scale(0.87,1)" font-size="9.6" text-anchor="middle" font-weight="normal" fill="#14365a" >1919</text>
<text font-size="5.2" font-weight="bold" text-anchor="middle" fill="#0c0c0c"><tspan x="746.65" y="288.60">El templo de Lourdes se</tspan><tspan x="746.65" y="295.35">le suma la iglesia de</tspan><tspan x="746.65" y="302.10">Nuestra Señora de</tspan><tspan x="746.65" y="308.85">Chiquinquirá. Se inicia</tspan><tspan x="746.65" y="315.60">su construcción en la</tspan><tspan x="746.65" y="322.35">carrera 13 con calle 51.</tspan></text>
<rect x="786.5" y="128.6" width="64.00" height="12" fill="#2090D6"/>
<text transform="translate(818.50,137.30) scale(0.87,1)" font-size="9.6" text-anchor="middle" font-weight="normal" fill="#14365a" >1921</text>
<text font-size="5.2" font-weight="bold" text-anchor="middle" fill="#0c0c0c"><tspan x="818.50" y="147.70">Se consolidan los</tspan><tspan x="818.50" y="154.45">barrios: La Constructora,</tspan><tspan x="818.50" y="161.20">La Merced, Marly, Sucre</tspan><tspan x="818.50" y="167.95">y El Carmelo.</tspan></text>
<path d="M9.00 597.40L9.50 598.99L10.06 600.55L10.69 602.09L11.39 603.60L12.15 605.08L12.98 606.53L13.86 607.93L14.81 609.30L15.81 610.63L16.87 611.91L17.98 613.15L19.15 614.34L20.36 615.47L21.63 616.56L22.93 617.58L24.29 618.55L25.68 619.47L27.11 620.32L28.57 621.11L30.07 621.83L31.60 622.49L33.15 623.09L34.73 623.61L36.33 624.07L37.94 624.46L39.58 624.78L41.22 625.03L42.88 625.21L44.54 625.31L46.20 625.35L47.66 625.39L49.07 625.35L50.45 625.25L51.80 625.09L53.10 624.88L54.38 624.61L55.62 624.29L56.84 623.92L58.03 623.50L59.19 623.03L60.33 622.52L61.45 621.96L62.54 621.36L63.62 620.71L64.67 620.03L65.71 619.31L66.73 618.55L67.73 617.75L68.72 616.92L69.69 616.06L70.65 615.17L71.59 614.25L72.52 613.30L73.44 612.33L74.35 611.34L75.25 610.32L76.14 609.29L77.03 608.24L77.90 607.17L78.77 606.09L81.63 608.29L80.78 609.42L79.93 610.55L79.06 611.67L78.19 612.78L77.30 613.87L76.39 614.95L75.46 616.02L74.52 617.06L73.56 618.09L72.57 619.09L71.57 620.07L70.54 621.02L69.48 621.94L68.39 622.83L67.28 623.69L66.13 624.52L64.95 625.30L63.74 626.05L62.49 626.76L61.21 627.42L59.89 628.03L58.53 628.59L57.13 629.10L55.69 629.56L54.22 629.95L52.70 630.29L51.14 630.57L49.53 630.79L47.89 630.95L46.20 631.05L44.32 631.01L42.45 630.87L40.58 630.65L38.73 630.34L36.89 629.95L35.07 629.47L33.28 628.90L31.52 628.25L29.78 627.52L28.09 626.70L26.44 625.81L24.83 624.84L23.26 623.80L21.75 622.68L20.29 621.49L18.89 620.24L17.55 618.92L16.28 617.54L15.07 616.10L13.93 614.61L12.86 613.06L11.86 611.47L10.95 609.83L10.11 608.14L9.35 606.43L8.67 604.67L8.07 602.89L7.56 601.08L7.14 599.25L6.80 597.40Z" fill="#2090D6"/>
<path d="M80.20 607.19C91.12 592.99 100.43 576.80 119.50 576.80C135.85 576.80 144.78 588.70 153.58 600.60" fill="none" stroke="#A6409E" stroke-width="3.6" stroke-linecap="butt"/>
<path d="M153.58 600.60C162.37 612.50 171.02 624.40 186.80 624.40C202.70 624.40 210.11 612.33 218.45 600.25" fill="none" stroke="#A6409E" stroke-width="3.6" stroke-linecap="butt"/>
<path d="M218.45 600.25C226.79 588.17 236.06 576.10 255.70 576.10C275.17 576.10 285.19 587.98 294.36 599.85" fill="none" stroke="#A6409E" stroke-width="3.6" stroke-linecap="butt"/>
<path d="M294.36 599.85C303.52 611.73 311.84 623.60 327.90 623.60C349.13 623.60 358.12 602.85 371.20 588.70" fill="none" stroke="#A6409E" stroke-width="3.5" stroke-linecap="butt"/>
<path d="M371.20 588.70C377.98 581.36 385.85 575.80 397.10 575.80C413.67 575.80 422.25 587.88 430.80 599.95" fill="none" stroke="#F6A128" stroke-width="3.5" stroke-linecap="butt"/>
<path d="M430.80 599.95C439.36 612.03 447.90 624.10 464.40 624.10C480.91 624.10 490.45 612.00 499.88 599.90" fill="none" stroke="#F6A128" stroke-width="3.4" stroke-linecap="butt"/>
<path d="M499.88 599.90C509.31 587.80 518.63 575.70 534.70 575.70C550.67 575.70 559.51 587.65 568.35 599.60" fill="none" stroke="#F6A128" stroke-width="3.5" stroke-linecap="butt"/>
<path d="M568.35 599.60C577.19 611.55 586.03 623.50 602.00 623.50C618.04 623.50 627.15 611.45 637.20 600.79" fill="none" stroke="#F6A128" stroke-width="3.8" stroke-linecap="butt"/>
<path d="M637.20 600.79C645.15 592.36 653.69 584.80 666.70 584.80C683.01 584.80 692.15 596.67 701.64 608.55" fill="none" stroke="#2090D6" stroke-width="3.9" stroke-linecap="butt"/>
<path d="M701.64 608.55C711.12 620.42 720.94 632.30 738.60 632.30C756.63 632.30 765.79 619.92 774.77 607.55" fill="none" stroke="#2090D6" stroke-width="4.2" stroke-linecap="butt"/>
<path d="M774.77 607.55C783.76 595.17 792.57 582.80 809.90 582.80C837.49 582.80 844.47 601.30 848.90 611.44" fill="none" stroke="#2090D6" stroke-width="3.8" stroke-linecap="butt"/>
<text transform="translate(84.30,409.90) scale(0.99,1)" font-size="10" text-anchor="middle" font-weight="normal" fill="#1e1f24" stroke="#1e1f24" stroke-width="0.3">1946</text>
<line x1="84.7" y1="413.9" x2="84.7" y2="619" stroke="#111" stroke-width="0.95" stroke-dasharray="5 4.6"/>
<text transform="translate(215.10,409.90) scale(0.99,1)" font-size="10" text-anchor="middle" font-weight="normal" fill="#1e1f24" stroke="#1e1f24" stroke-width="0.3">1950</text>
<line x1="215.5" y1="413.9" x2="215.5" y2="619" stroke="#111" stroke-width="0.95" stroke-dasharray="5 4.6"/>
<text transform="translate(362.30,409.90) scale(0.99,1)" font-size="10" text-anchor="middle" font-weight="normal" fill="#1e1f24" stroke="#1e1f24" stroke-width="0.3">1954</text>
<line x1="362.7" y1="413.9" x2="362.7" y2="619" stroke="#111" stroke-width="0.95" stroke-dasharray="5 4.6"/>
<text transform="translate(432.30,409.90) scale(0.99,1)" font-size="10" text-anchor="middle" font-weight="normal" fill="#1e1f24" stroke="#1e1f24" stroke-width="0.3">1958</text>
<line x1="432.7" y1="413.9" x2="432.7" y2="619" stroke="#111" stroke-width="0.95" stroke-dasharray="5 4.6"/>
<text transform="translate(500.00,409.90) scale(0.99,1)" font-size="10" text-anchor="middle" font-weight="normal" fill="#1e1f24" stroke="#1e1f24" stroke-width="0.3">1962</text>
<line x1="500.4" y1="413.9" x2="500.4" y2="619" stroke="#111" stroke-width="0.95" stroke-dasharray="5 4.6"/>
<text transform="translate(569.80,409.90) scale(0.99,1)" font-size="10" text-anchor="middle" font-weight="normal" fill="#1e1f24" stroke="#1e1f24" stroke-width="0.3">1966</text>
<line x1="570.2" y1="413.9" x2="570.2" y2="619" stroke="#111" stroke-width="0.95" stroke-dasharray="5 4.6"/>
<text transform="translate(701.10,409.90) scale(0.99,1)" font-size="10" text-anchor="middle" font-weight="normal" fill="#1e1f24" stroke="#1e1f24" stroke-width="0.3">1970</text>
<line x1="701.5" y1="413.9" x2="701.5" y2="619" stroke="#111" stroke-width="0.95" stroke-dasharray="5 4.6"/>
<text transform="translate(848.40,409.90) scale(0.99,1)" font-size="10" text-anchor="middle" font-weight="normal" fill="#1e1f24" stroke="#1e1f24" stroke-width="0.3">1974</text>
<line x1="848.8" y1="413.9" x2="848.8" y2="619" stroke="#111" stroke-width="0.95" stroke-dasharray="5 4.6"/>
<path d="M20.8 424.09999999999997H848.8M20.8 450.29999999999995H848.8" stroke="#7a7a7a" stroke-width="0.75" fill="none"/>
<path d="M848.8 424.09999999999997V450.29999999999995" stroke="#7a7a7a" stroke-width="0.75" fill="none"/>
<text transform="translate(150.10,433.90) scale(0.93,1)" font-size="9.1" text-anchor="middle" font-weight="normal" fill="#1e1f24" stroke="#1e1f24" stroke-width="0.3">MARIANO OSPINA PÉREZ</text>
<text transform="translate(289.10,433.90) scale(0.93,1)" font-size="9.1" text-anchor="middle" font-weight="normal" fill="#1e1f24" stroke="#1e1f24" stroke-width="0.3">LAUREANO GÓMEZ CASTRO</text>
<text transform="translate(397.70,433.90) scale(0.93,1)" font-size="9.1" text-anchor="middle" font-weight="normal" fill="#1e1f24" stroke="#1e1f24" stroke-width="0.3">GUSTAVO</text>
<text transform="translate(397.70,446.30) scale(0.93,1)" font-size="9.1" text-anchor="middle" font-weight="normal" fill="#1e1f24" stroke="#1e1f24" stroke-width="0.3">ROJAS PINILLA</text>
<text transform="translate(466.55,433.90) scale(0.93,1)" font-size="9.1" text-anchor="middle" font-weight="normal" fill="#1e1f24" stroke="#1e1f24" stroke-width="0.3">ALBERTO</text>
<text transform="translate(466.55,446.30) scale(0.93,1)" font-size="9.1" text-anchor="middle" font-weight="normal" fill="#1e1f24" stroke="#1e1f24" stroke-width="0.3">LLERAS</text>
<text transform="translate(535.30,433.90) scale(0.93,1)" font-size="9.1" text-anchor="middle" font-weight="normal" fill="#1e1f24" stroke="#1e1f24" stroke-width="0.3">GUILLERMO</text>
<text transform="translate(535.30,446.30) scale(0.93,1)" font-size="9.1" text-anchor="middle" font-weight="normal" fill="#1e1f24" stroke="#1e1f24" stroke-width="0.3">LEÓN VALENCIA</text>
<text transform="translate(635.85,433.90) scale(0.93,1)" font-size="9.1" text-anchor="middle" font-weight="normal" fill="#1e1f24" stroke="#1e1f24" stroke-width="0.3">CARLOS LLERAS RESTREPO</text>
<text transform="translate(775.15,433.90) scale(0.93,1)" font-size="9.1" text-anchor="middle" font-weight="normal" fill="#1e1f24" stroke="#1e1f24" stroke-width="0.3">MISAEL PASTRANA BORRERO</text>
<rect x="23.60" y="457.30" width="59.90" height="35.6" fill="#fff"/>
<rect x="85.90" y="457.30" width="39.50" height="35.6" fill="#fff"/>
<rect x="127.80" y="457.30" width="44.50" height="35.6" fill="#fff"/>
<rect x="174.70" y="457.30" width="39.60" height="35.6" fill="#fff"/>
<rect x="216.70" y="457.30" width="102.60" height="35.6" fill="#fff"/>
<rect x="321.70" y="457.30" width="39.80" height="35.6" fill="#fff"/>
<rect x="363.90" y="457.30" width="39.10" height="35.6" fill="#fff"/>
<rect x="405.40" y="457.30" width="39.50" height="35.6" fill="#fff"/>
<rect x="447.30" y="457.30" width="39.80" height="35.6" fill="#fff"/>
<rect x="489.50" y="457.30" width="79.50" height="35.6" fill="#fff"/>
<rect x="571.40" y="457.30" width="80.90" height="35.6" fill="#fff"/>
<rect x="654.70" y="457.30" width="45.60" height="35.6" fill="#fff"/>
<rect x="702.70" y="457.30" width="96.90" height="35.6" fill="#fff"/>
<rect x="802.00" y="457.30" width="45.60" height="35.6" fill="#fff"/>
<rect x="22.4" y="457.29999999999995" width="826.4" height="35.6" fill="none" stroke="#000" stroke-width="0.9"/>
<path d="M126.6 457.29999999999995V492.9M173.5 457.29999999999995V492.9M320.5 457.29999999999995V492.9M404.2 457.29999999999995V492.9M446.1 457.29999999999995V492.9M488.3 457.29999999999995V492.9M653.5 457.29999999999995V492.9M800.8 457.29999999999995V492.9" stroke="#000" stroke-width="0.9" fill="none"/>
<text transform="translate(53.55,468.20) scale(0.9,1)" font-size="9.5" text-anchor="middle" font-weight="normal" fill="#1e1f24" stroke="#1e1f24" stroke-width="0.3">Juan Pablo</text>
<text transform="translate(53.55,479.10) scale(0.9,1)" font-size="9.5" text-anchor="middle" font-weight="normal" fill="#1e1f24" stroke="#1e1f24" stroke-width="0.3">Llinás</text>
<text transform="translate(105.65,468.20) scale(0.9,1)" font-size="9.5" text-anchor="middle" font-weight="normal" fill="#1e1f24" stroke="#1e1f24" stroke-width="0.3">Ramón</text>
<text transform="translate(105.65,479.10) scale(0.9,1)" font-size="9.5" text-anchor="middle" font-weight="normal" fill="#1e1f24" stroke="#1e1f24" stroke-width="0.3">Muñoz</text>
<text transform="translate(150.05,468.20) scale(0.9,1)" font-size="9.5" text-anchor="middle" font-weight="normal" fill="#1e1f24" stroke="#1e1f24" stroke-width="0.3">Juan Salgar</text>
<text transform="translate(150.05,479.10) scale(0.9,1)" font-size="9.5" text-anchor="middle" font-weight="normal" fill="#1e1f24" stroke="#1e1f24" stroke-width="0.3">Martín</text>
<text transform="translate(194.50,468.20) scale(0.9,1)" font-size="9.5" text-anchor="middle" font-weight="normal" fill="#1e1f24" stroke="#1e1f24" stroke-width="0.3">Carlos</text>
<text transform="translate(194.50,479.10) scale(0.9,1)" font-size="9.5" text-anchor="middle" font-weight="normal" fill="#1e1f24" stroke="#1e1f24" stroke-width="0.3">Reyes</text>
<text transform="translate(268.00,468.20) scale(0.9,1)" font-size="9.5" text-anchor="middle" font-weight="normal" fill="#1e1f24" stroke="#1e1f24" stroke-width="0.3">Santiago Trujillo</text>
<text transform="translate(341.60,468.20) scale(0.9,1)" font-size="9.5" text-anchor="middle" font-weight="normal" fill="#1e1f24" stroke="#1e1f24" stroke-width="0.3">Manuel</text>
<text transform="translate(341.60,479.10) scale(0.9,1)" font-size="9.5" text-anchor="middle" font-weight="normal" fill="#1e1f24" stroke="#1e1f24" stroke-width="0.3">Briceño</text>
<text transform="translate(383.45,468.20) scale(0.9,1)" font-size="9.5" text-anchor="middle" font-weight="normal" fill="#1e1f24" stroke="#1e1f24" stroke-width="0.3">Roberto</text>
<text transform="translate(383.45,479.10) scale(0.9,1)" font-size="9.5" text-anchor="middle" font-weight="normal" fill="#1e1f24" stroke="#1e1f24" stroke-width="0.3">Salazar</text>
<text transform="translate(425.15,468.20) scale(0.9,1)" font-size="9.5" text-anchor="middle" font-weight="normal" fill="#1e1f24" stroke="#1e1f24" stroke-width="0.3">Fernando</text>
<text transform="translate(425.15,479.10) scale(0.9,1)" font-size="9.5" text-anchor="middle" font-weight="normal" fill="#1e1f24" stroke="#1e1f24" stroke-width="0.3">Mazuela</text>
<text transform="translate(467.20,468.20) scale(0.9,1)" font-size="9.5" text-anchor="middle" font-weight="normal" fill="#1e1f24" stroke="#1e1f24" stroke-width="0.3">Fernando</text>
<text transform="translate(467.20,479.10) scale(0.9,1)" font-size="9.5" text-anchor="middle" font-weight="normal" fill="#1e1f24" stroke="#1e1f24" stroke-width="0.3">Mazuela</text>
<text transform="translate(529.25,468.20) scale(0.9,1)" font-size="9.5" text-anchor="middle" font-weight="normal" fill="#1e1f24" stroke="#1e1f24" stroke-width="0.3">Jorge Gaitán Cortés</text>
<text transform="translate(611.85,468.20) scale(0.9,1)" font-size="9.5" text-anchor="middle" font-weight="normal" fill="#1e1f24" stroke="#1e1f24" stroke-width="0.3">Virgilio Barco</text>
<text transform="translate(611.85,479.10) scale(0.9,1)" font-size="9.5" text-anchor="middle" font-weight="normal" fill="#1e1f24" stroke="#1e1f24" stroke-width="0.3">Vargas</text>
<text transform="translate(677.50,468.20) scale(0.9,1)" font-size="9.5" text-anchor="middle" font-weight="normal" fill="#1e1f24" stroke="#1e1f24" stroke-width="0.3">Emilio</text>
<text transform="translate(677.50,479.10) scale(0.9,1)" font-size="9.5" text-anchor="middle" font-weight="normal" fill="#1e1f24" stroke="#1e1f24" stroke-width="0.3">Urrea</text>
<text transform="translate(751.15,468.20) scale(0.9,1)" font-size="9.5" text-anchor="middle" font-weight="normal" fill="#1e1f24" stroke="#1e1f24" stroke-width="0.3">Carlos Albán Holguín</text>
<text transform="translate(824.80,468.20) scale(0.9,1)" font-size="9.5" text-anchor="middle" font-weight="normal" fill="#1e1f24" stroke="#1e1f24" stroke-width="0.3">Aníbal</text>
<text transform="translate(824.80,479.10) scale(0.9,1)" font-size="9.5" text-anchor="middle" font-weight="normal" fill="#1e1f24" stroke="#1e1f24" stroke-width="0.3">Fernandéz</text>
<line x1="46.1" y1="630.8" x2="46.1" y2="641.6" stroke="#2090D6" stroke-width="1.1"/>
<circle cx="46.1" cy="644.6" r="3.0" fill="#fff" stroke="#2090D6" stroke-width="1"/>
<line x1="119.6" y1="575.2" x2="119.6" y2="542.7" stroke="#A6409E" stroke-width="1.1"/>
<circle cx="119.6" cy="539.7" r="3.0" fill="#fff" stroke="#A6409E" stroke-width="1"/>
<line x1="119.6" y1="639" x2="119.6" y2="650.3" stroke="#A6409E" stroke-width="1.1"/>
<circle cx="119.6" cy="653.3" r="3.0" fill="#fff" stroke="#A6409E" stroke-width="1"/>
<line x1="186.4" y1="626.2" x2="186.4" y2="639.2" stroke="#A6409E" stroke-width="1.1"/>
<circle cx="186.4" cy="642.2" r="3.0" fill="#fff" stroke="#A6409E" stroke-width="1"/>
<line x1="255.6" y1="574.4" x2="255.6" y2="567.4" stroke="#A6409E" stroke-width="1.1"/>
<circle cx="255.6" cy="564.4" r="3.0" fill="#fff" stroke="#A6409E" stroke-width="1"/>
<line x1="327.9" y1="625.3" x2="327.9" y2="639.2" stroke="#A6409E" stroke-width="1.1"/>
<circle cx="327.9" cy="642.2" r="3.0" fill="#fff" stroke="#A6409E" stroke-width="1"/>
<line x1="396.8" y1="574.1" x2="396.8" y2="566.3" stroke="#F6A128" stroke-width="1.1"/>
<circle cx="396.8" cy="563.3" r="3.0" fill="#fff" stroke="#F6A128" stroke-width="1"/>
<line x1="464.3" y1="625.8" x2="464.3" y2="638.7" stroke="#F6A128" stroke-width="1.1"/>
<circle cx="464.3" cy="641.7" r="3.0" fill="#fff" stroke="#F6A128" stroke-width="1"/>
<line x1="535.1" y1="574" x2="535.1" y2="556.3" stroke="#F6A128" stroke-width="1.1"/>
<circle cx="535.1" cy="553.3" r="3.0" fill="#fff" stroke="#F6A128" stroke-width="1"/>
<line x1="602.1" y1="625.4" x2="602.1" y2="636.6" stroke="#F6A128" stroke-width="1.1"/>
<circle cx="602.1" cy="639.6" r="3.0" fill="#fff" stroke="#F6A128" stroke-width="1"/>
<line x1="666.4" y1="582.9" x2="666.4" y2="561.0" stroke="#2090D6" stroke-width="1.1"/>
<circle cx="666.4" cy="558" r="3.0" fill="#fff" stroke="#2090D6" stroke-width="1"/>
<line x1="738.6" y1="634.4" x2="738.6" y2="640.6" stroke="#2090D6" stroke-width="1.1"/>
<circle cx="738.6" cy="643.6" r="3.0" fill="#fff" stroke="#2090D6" stroke-width="1"/>
<line x1="809.5" y1="581" x2="809.5" y2="553.4" stroke="#2090D6" stroke-width="1.1"/>
<circle cx="809.5" cy="550.4" r="3.0" fill="#fff" stroke="#2090D6" stroke-width="1"/>
<circle cx="46.2" cy="589.7" r="34" fill="#2090D6"/>
<g transform="translate(46.2,589.7)" fill="none" stroke="#fff" stroke-width="1.8" stroke-linejoin="round" stroke-linecap="round"><path d="M-12.2 -12.4A12.2 11.4 0 0 1 12.2 -12.4Z"/><path d="M-14.2 -12.4H14.2V-9.8H-14.2Z"/><path d="M-3.6 -23.4V-14.6M3.6 -23.4V-14.6M-3.6 -23.6H3.6"/><path d="M-7.8 -20.6L-8.8 -14.6M7.8 -20.6L8.8 -14.6" stroke-width="1.4"/><path d="M-10.2 -9V-2.5C-10.2 3.5 -5.8 7.6 0 7.6C5.8 7.6 10.2 3.5 10.2 -2.5V-9"/><path d="M-10.5 -7.3C-13.3 -7.6 -13.3 -2.6 -10.3 -2.8M10.5 -7.3C13.3 -7.6 13.3 -2.6 10.3 -2.8" stroke-width="1.4"/><path d="M-0.6 -3V0H0.9" stroke-width="1.5"/><path d="M-4.4 6.8V10.4C-3 12.6 3 12.6 4.4 10.4V6.8"/><path d="M-5.5 9.8C-13.6 11.6 -18.6 15 -18.6 23.2H18.6C18.6 15 13.6 11.6 5.5 9.8"/><path d="M-8.6 11.8V19H8.6V11.8M-12.8 19H12.8V22.6M-12.8 19V22.6" stroke-width="1.5"/><path d="M-15.6 15.5V22.8M15.6 15.5V22.8" stroke-width="1.2"/></g>
<circle cx="119.3" cy="610.5" r="28.3" fill="#A6409E"/>
<clipPath id="c8"><circle cx="0" cy="0" r="24.60"/></clipPath>
<g transform="translate(119.3,610.5)" clip-path="url(#c8)"><rect x="-30" y="-30" width="60" height="60" fill="#858585"/><path d="M-30 -30H30V-14L-30 -8Z" fill="#9a9a9a"/><path d="M-30 10L30 4V30H-30Z" fill="#6c6c6c"/><path d="M-22 -10L-8 -14L-2 -8L-16 -2Z" fill="#cfcfcf"/><path d="M4 -16L18 -13L15 -7L3 -10Z" fill="#c6c6c6"/><path d="M-12 4L2 2L6 8L-8 12Z" fill="#c9c9c9"/><path d="M8 6L20 4L22 12L10 14Z" fill="#bdbdbd"/><rect x="-3" y="0" width="2.6" height="8" fill="#1e1e1e"/><rect x="2" y="-1" width="2.6" height="9" fill="#222"/><rect x="13" y="10" width="3.2" height="9" fill="#1b1b1b"/><rect x="-15" y="4" width="2.6" height="7" fill="#262626"/><rect x="-9" y="-9" width="2.2" height="6" fill="#2a2a2a"/><rect x="-21" y="-2" width="2.4" height="7" fill="#2a2a2a"/><rect x="8" y="-8" width="2.2" height="6" fill="#333"/><path d="M-24 14L-10 12L-6 20L-20 22Z" fill="#3a3a3a"/><rect x="-28.3" y="-28.3" width="56.6" height="56.6" filter="url(#nzc)" opacity="0.42"/></g>
<circle cx="186.5" cy="593" r="25.6" fill="#A6409E"/>
<clipPath id="c9"><circle cx="0" cy="0" r="22.00"/></clipPath>
<g transform="translate(186.5,593)" clip-path="url(#c9)"><rect x="-28" y="-28" width="56" height="56" fill="#5d5d5d"/><path d="M-9 -24L7 -23L5 -14L-7 -13Z" fill="#b0b0b0"/><path d="M-8 -14C-2 -16 4 -14 5 -6L7 14L-6 18C-10 8 -12 -4 -8 -14Z" fill="#8b8b8b"/><path d="M6 -12C14 -14 22 -8 22 0C20 8 12 10 8 6Z" fill="#1f1f1f"/><path d="M-26 -6L-12 -12L-10 10L-24 12Z" fill="#3d3d3d"/><path d="M-20 12L10 10L22 16V28H-20Z" fill="#9a9a9a"/><rect x="-25.6" y="-25.6" width="51.2" height="51.2" filter="url(#nzc)" opacity="0.14"/></g>
<circle cx="255.7" cy="624" r="38" fill="#A6409E"/>
<clipPath id="c10"><circle cx="0" cy="0" r="34.50"/></clipPath>
<g transform="translate(255.7,624)" clip-path="url(#c10)"><rect x="-40" y="-40" width="80" height="80" fill="#fbfbfa"/><path d="M-40 -11L-33 -15L-30 -16.9L-18.4 -21.7L-10 -25L-4.9 -27L5.8 -26.5L17.5 -23.6L27 -21.7L40 -17V6H-40Z" fill="#5d7758"/><path d="M-10 -22L-4.9 -26L5.8 -25.5L10 -18L2 -10L-8 -8L-14 -14Z" fill="#7f927a" filter="url(#bl2)"/><path d="M-40 -9L-30 -14.9L-18.4 -19.7L-20 -8L-40 -2Z" fill="#53694f" filter="url(#bl2)"/><path d="M10 -14L30 -16L40 -10V-2L12 -4Z" fill="#5d7554" filter="url(#bl2)"/><path d="M-40 -6L-10 -4L20 -5L40 -6V5H-40Z" fill="#6a8258"/><path d="M-30 -1L-22 -2.6L-12 -1.8L-2 -2.6L8 -2.2L12 -0.5L8 1.2L-4 0.8L-14 1.4L-24 1Z" fill="#c4c6ba" filter="url(#bl)"/><path d="M-40 3L-15 2.5L12 2L40 3V40H-40Z" fill="#54752f"/><path d="M-34 8L-18 6L-6 12L-4 26L-20 30L-36 24Z" fill="#2c401c" filter="url(#bl2)"/><path d="M8 4L30 2L38 12L28 24L12 20Z" fill="#8f9f3c" filter="url(#bl2)"/><path d="M-6 16L8 12L14 24L2 34L-8 28Z" fill="#415c26" filter="url(#bl2)"/><path d="M-10 28L14 26L20 34L-6 38Z" fill="#9aa586" filter="url(#bl2)"/><rect x="-38" y="-38" width="76" height="76" filter="url(#nz)" opacity="0.08"/></g>
<circle cx="327.9" cy="591" r="25.4" fill="#A6409E"/>
<g transform="translate(327.9,591) scale(1.0)"><rect x="-14.5" y="-15.8" width="24.2" height="32.4" fill="none" stroke="#fff" stroke-width="2"/><path d="M-9 -10.2H4.6" stroke="#fff" stroke-width="2.4" stroke-linecap="round"/><path d="M-11 -5.8H6M-11 -2.3H6M-11 1.1H5M-11 4.4H2" stroke="#fff" stroke-width="1.2"/><path d="M-7.5 13.2H-0.5M-6.3 13V9.8" stroke="#fff" stroke-width="1" fill="none"/><g transform="translate(-1.8,11.8) rotate(-45)"><path d="M0 0L6 -3.2H25.5A3.2 3.2 0 0 1 25.5 3.2H6Z" fill="#fff" stroke="#A6409E" stroke-width="0.9"/></g></g>
<circle cx="397.1" cy="609.9" r="26.4" fill="#F6A128"/>
<g transform="translate(397.1,609.9)"><rect x="-13" y="-16" width="21" height="28.5" fill="none" stroke="#fff" stroke-width="1.5"/><path d="M-10 -12.6H4" stroke="#fff" stroke-width="1.6"/><rect x="-20.5" y="-8" width="14.5" height="13.6" fill="#F6A128" stroke="#fff" stroke-width="1.5"/><text x="-16.2" y="2.3" font-size="9" font-weight="bold" fill="#fff" text-anchor="middle">$</text><path d="M-12.5 -3.6H-7M-12.5 0H-7" stroke="#fff" stroke-width="1"/><rect x="-6.2" y="-12" width="20.6" height="27.8" fill="#F6A128" stroke="#fff" stroke-width="1.7"/><path d="M-2 -7.4H9.5" stroke="#fff" stroke-width="2" stroke-linecap="round"/><path d="M-3.2 -3.5H10.8M-3.2 -0.6H10.8M-3.2 2.3H8M-3.2 5.2H4" stroke="#fff" stroke-width="1.1"/><path d="M0 12.5H6.5" stroke="#fff" stroke-width="1"/><g transform="translate(5,11.4) rotate(-45)"><path d="M0 0L5 -2.8H22A2.8 2.8 0 0 1 22 2.8H5Z" fill="#fff" stroke="#F6A128" stroke-width="0.8"/></g></g>
<circle cx="464.4" cy="590.3" r="26.3" fill="#F6A128"/>
<g transform="translate(464.4,590.3)"><g stroke="#F6A128" stroke-width="0.7" fill="#fff"><path d="M-11.2 5.549999999999999V-4.750000000000002A7.6 6.84 0 0 1 3.9999999999999996 -4.750000000000002V5.549999999999999Z"/><circle cx="-3.6" cy="-14.8" r="5.8"/></g><g stroke="#F6A128" stroke-width="0.7" fill="#fff"><path d="M5.4 8.05V-1.299999999999999A7.4 6.66 0 0 1 20.200000000000003 -1.299999999999999V8.05Z"/><circle cx="12.8" cy="-10.6" r="5.0"/></g><g stroke="#F6A128" stroke-width="0.7" fill="#fff"><path d="M-20.2 12.925V3.625A7.6 6.84 0 0 1 -5.0 3.625V12.925Z"/><circle cx="-12.6" cy="-5.6" r="4.7"/></g><g stroke="#F6A128" stroke-width="0.7" fill="#fff"><path d="M-2.1999999999999993 12.925V4.0249999999999995A7.6 6.84 0 0 1 13.0 4.0249999999999995V12.925Z"/><circle cx="5.4" cy="-5.2" r="4.7"/></g><g stroke="#F6A128" stroke-width="0.7" fill="#fff"><path d="M-12.799999999999999 18.0V11.099999999999998A9.2 8.28 0 0 1 5.6 11.099999999999998V18.0Z"/><circle cx="-3.6" cy="0" r="5.6"/></g></g>
<circle cx="534.7" cy="607.7" r="26.1" fill="#F6A128"/>
<g transform="translate(534.7,607.7)"><g stroke="#F6A128" stroke-width="0.7" fill="#fff"><path d="M-11.2 5.549999999999999V-4.750000000000002A7.6 6.84 0 0 1 3.9999999999999996 -4.750000000000002V5.549999999999999Z"/><circle cx="-3.6" cy="-14.8" r="5.8"/></g><g stroke="#F6A128" stroke-width="0.7" fill="#fff"><path d="M5.4 8.05V-1.299999999999999A7.4 6.66 0 0 1 20.200000000000003 -1.299999999999999V8.05Z"/><circle cx="12.8" cy="-10.6" r="5.0"/></g><g stroke="#F6A128" stroke-width="0.7" fill="#fff"><path d="M-20.2 12.925V3.625A7.6 6.84 0 0 1 -5.0 3.625V12.925Z"/><circle cx="-12.6" cy="-5.6" r="4.7"/></g><g stroke="#F6A128" stroke-width="0.7" fill="#fff"><path d="M-2.1999999999999993 12.925V4.0249999999999995A7.6 6.84 0 0 1 13.0 4.0249999999999995V12.925Z"/><circle cx="5.4" cy="-5.2" r="4.7"/></g><g stroke="#F6A128" stroke-width="0.7" fill="#fff"><path d="M-12.799999999999999 18.0V11.099999999999998A9.2 8.28 0 0 1 5.6 11.099999999999998V18.0Z"/><circle cx="-3.6" cy="0" r="5.6"/></g></g>
<circle cx="602" cy="591.5" r="26.2" fill="#F6A128"/>
<circle cx="666.7" cy="618.4" r="26.7" fill="#2090D6"/>
<circle cx="738.6" cy="592.9" r="32.9" fill="#2090D6"/>
<clipPath id="c11"><circle cx="0" cy="0" r="29.70"/></clipPath>
<g transform="translate(738.6,592.9)" clip-path="url(#c11)"><rect x="-34" y="-34" width="68" height="68" fill="#e2e2e2"/><path d="M-30 -12L-10 -14L8 -11L20 -7L-4 -4L-30 -3Z" fill="#9a9a9a" filter="url(#bl2)"/><path d="M-34 1L-26.8 -0.5L-16 -1.5L-6 -1L4 -4L12.5 -6.4L22 -5.6L34 -4V7H-34Z" fill="#4c4c4c"/><rect x="-0.6" y="-8.7" width="2" height="10" fill="#555"/><path d="M-34 3H-8L-2 1.5L12 3L34 2V11.5H-34Z" fill="#353535"/><path d="M-3 3.5L12 4L13 7L-2 6.8Z" fill="#a2a2a2"/><path d="M20 2.5H32V6H20Z" fill="#8e8e8e"/><path d="M-28 7V11M-20 7V11M6 8V11M16 7V11M22 8V11" stroke="#c4c4c4" stroke-width="1.2"/><rect x="-34" y="11.2" width="68" height="24" fill="#a0a0a0"/><path d="M-12 17L10 16L12 19.5L-10 20.5Z" fill="#5a5a5a" filter="url(#bl)"/><path d="M-34 22L34 20V34H-34Z" fill="#909090"/><rect x="-32.9" y="-32.9" width="65.8" height="65.8" filter="url(#nz)" opacity="0.1"/></g>
<circle cx="809.9" cy="619.2" r="28.2" fill="#2090D6"/>
<g transform="translate(809.9,619.2)"><path d="M0 -19.8L17.8 -10.4H-17.8Z" fill="#fff"/><path d="M0 -16.8L11.5 -11.3H-11.5Z" fill="#2090D6"/><rect x="-18.3" y="-10.6" width="36.9" height="3.4" fill="#fff"/><rect x="-16.8" y="-9.3" width="33.9" height="0.9" fill="#2090D6"/><path d="M-16.900000000000002 -7.2H-9.700000000000001L-10.4 -4.5V11.8L-9.700000000000001 14.6H-16.900000000000002L-16.2 11.8V-4.5Z" fill="#fff"/><rect x="-14.100000000000001" y="-2.5" width="1.6" height="12.5" fill="#2090D6"/><path d="M-3.6 -7.2H3.6L2.9 -4.5V11.8L3.6 14.6H-3.6L-2.9 11.8V-4.5Z" fill="#fff"/><rect x="-0.8" y="-2.5" width="1.6" height="12.5" fill="#2090D6"/><path d="M9.700000000000001 -7.2H16.900000000000002L16.2 -4.5V11.8L16.900000000000002 14.6H9.700000000000001L10.4 11.8V-4.5Z" fill="#fff"/><rect x="12.5" y="-2.5" width="1.6" height="12.5" fill="#2090D6"/><rect x="-17.8" y="14.4" width="35.6" height="4.6" fill="#fff"/><rect x="-16.5" y="16.2" width="33" height="0.9" fill="#2090D6"/></g>
<rect x="15.2" y="651.3" width="62.70" height="12.4" fill="#2090D6"/>
<text transform="translate(46.55,660.40) scale(0.87,1)" font-size="9.6" text-anchor="middle" font-weight="normal" fill="#14365a" >1946</text>
<text font-size="5.2" font-weight="bold" text-anchor="middle" fill="#0c0c0c"><tspan x="46.55" y="671.10">Presión por parte de los</tspan><tspan x="46.55" y="677.85">barrios obreros de</tspan><tspan x="46.55" y="684.60">Chapinero hacia el</tspan><tspan x="46.55" y="691.35">Estado.</tspan></text>
<rect x="88" y="511.8" width="62.80" height="12" fill="#A6409E"/>
<text transform="translate(119.40,520.50) scale(0.87,1)" font-size="9.6" text-anchor="middle" font-weight="normal" fill="#33203a" >1948</text>
<text font-size="5.2" font-weight="bold" text-anchor="middle" fill="#0c0c0c"><tspan x="119.40" y="531.50">EL BOGOTAZO</tspan></text>
<text font-size="5.2" font-weight="bold" text-anchor="middle" fill="#0c0c0c"><tspan x="119.60" y="670.80">Plan Piloto de La</tspan><tspan x="119.60" y="677.55">Corbusier para Bogotá.</tspan></text>
<rect x="155.3" y="651.3" width="62.70" height="12.4" fill="#A6409E"/>
<text transform="translate(186.65,660.40) scale(0.87,1)" font-size="9.6" text-anchor="middle" font-weight="normal" fill="#33203a" >1949</text>
<text font-size="5.2" font-weight="bold" text-anchor="middle" fill="#0c0c0c"><tspan x="186.65" y="671.10">La Finca de los</tspan><tspan x="186.65" y="677.85">hermanos Ferré Amigo</tspan><tspan x="186.65" y="684.60">es cerrada para detener</tspan><tspan x="186.65" y="691.35">la explotación de los</tspan><tspan x="186.65" y="698.10">chircales.</tspan></text>
<rect x="224.1" y="511.8" width="62.80" height="12" fill="#A6409E"/>
<text transform="translate(255.50,520.50) scale(0.87,1)" font-size="9.6" text-anchor="middle" font-weight="normal" fill="#33203a" >1950</text>
<text font-size="5.2" font-weight="bold" text-anchor="middle" fill="#0c0c0c"><tspan x="255.50" y="531.50">Las actividades del</tspan><tspan x="255.50" y="538.25">Cerro del Cable pierden</tspan><tspan x="255.50" y="545.00">importancia y dan</tspan><tspan x="255.50" y="551.75">espacio para nuevos</tspan><tspan x="255.50" y="558.50">asentamientos obreros.</tspan></text>
<rect x="296.2" y="651.3" width="62.80" height="12.4" fill="#A6409E"/>
<text transform="translate(327.60,660.40) scale(0.87,1)" font-size="9.6" text-anchor="middle" font-weight="normal" fill="#33203a" >1910</text>
<text font-size="5.2" font-weight="bold" text-anchor="middle" fill="#0c0c0c"><tspan x="327.60" y="671.10">Predio Las Delicias,</tspan><tspan x="327.60" y="677.85">mantien sus límites,</tspan><tspan x="327.60" y="684.60">aunque se renombra</tspan><tspan x="327.60" y="691.35">como Bosque Calderón</tspan><tspan x="327.60" y="698.10">Tejada</tspan></text>
<rect x="365.1" y="511.8" width="62.50" height="12" fill="#F6A128"/>
<text transform="translate(396.35,520.50) scale(0.87,1)" font-size="9.6" text-anchor="middle" font-weight="normal" fill="#33260f" >1955</text>
<text font-size="5.2" font-weight="bold" text-anchor="middle" fill="#0c0c0c"><tspan x="396.35" y="531.50">Se reparten lotes como</tspan><tspan x="396.35" y="538.25">medio de pago a los</tspan><tspan x="396.35" y="545.00">trabajadores, naciendo</tspan><tspan x="396.35" y="551.75">así el sector central de</tspan><tspan x="396.35" y="558.50">San Martín de Porres.</tspan></text>
<rect x="433.2" y="651.3" width="62.80" height="12.4" fill="#F6A128"/>
<text transform="translate(464.60,660.40) scale(0.87,1)" font-size="9.6" text-anchor="middle" font-weight="normal" fill="#33260f" >1960</text>
<text font-size="5.2" font-weight="bold" text-anchor="middle" fill="#0c0c0c"><tspan x="464.60" y="671.10">Creación de la Junta de</tspan><tspan x="464.60" y="677.85">Acción Comunal del</tspan><tspan x="464.60" y="684.60">barrio San Martín.</tspan></text>
<rect x="503" y="511.8" width="62.80" height="12" fill="#F6A128"/>
<text transform="translate(534.40,520.50) scale(0.87,1)" font-size="9.6" text-anchor="middle" font-weight="normal" fill="#33260f" >1964</text>
<text font-size="5.2" font-weight="bold" text-anchor="middle" fill="#0c0c0c"><tspan x="534.40" y="531.50">Crecimiento poblacional</tspan><tspan x="534.40" y="538.25">notable: de 303.312 a</tspan><tspan x="534.40" y="545.00">1'697.311 habitantes.</tspan></text>
<rect x="571.4" y="651.3" width="62.30" height="12.3" fill="#F6A128"/>
<rect x="707.1" y="651.3" width="63.00" height="12.3" fill="#2090D6"/>
<text transform="translate(738.60,660.30) scale(0.87,1)" font-size="9.6" text-anchor="middle" font-weight="normal" fill="#14365a" >1972</text>
<text font-size="5.2" font-weight="bold" text-anchor="middle" fill="#0c0c0c"><tspan x="738.60" y="670.70">Creación de comités de</tspan><tspan x="738.60" y="677.45">oposición a desalojos</tspan><tspan x="738.60" y="684.20">para la construcción de</tspan><tspan x="738.60" y="690.95">la Avenida los Cerros.</tspan></text>
<rect x="778" y="511.4" width="63.00" height="12.2" fill="#2090D6"/>
<text transform="translate(809.50,520.30) scale(0.87,1)" font-size="9.6" text-anchor="middle" font-weight="normal" fill="#14365a" >1973</text>
<text font-size="5.2" font-weight="bold" text-anchor="middle" fill="#0c0c0c"><tspan x="809.50" y="530.70">Creación de las 16</tspan><tspan x="809.50" y="537.45">Alcaldías Locales para la</tspan><tspan x="809.50" y="544.20">localidad de Chapinero.</tspan></text>
<path d="M11.30 974.00L11.83 975.59L12.42 977.16L13.08 978.70L13.81 980.21L14.60 981.69L15.45 983.14L16.36 984.54L17.33 985.91L18.36 987.24L19.44 988.52L20.58 989.75L21.76 990.93L23.00 992.07L24.28 993.15L25.61 994.17L26.98 995.14L28.39 996.04L29.84 996.89L31.32 997.68L32.83 998.40L34.37 999.06L35.94 999.65L37.53 1000.17L39.15 1000.63L40.78 1001.01L42.43 1001.33L44.08 1001.58L45.75 1001.76L47.42 1001.86L49.10 1001.90L50.38 1001.95L51.64 1001.94L52.86 1001.87L54.06 1001.76L55.24 1001.60L56.39 1001.40L57.52 1001.16L58.63 1000.88L59.71 1000.55L60.78 1000.19L61.83 999.79L62.86 999.36L63.87 998.89L64.87 998.38L65.86 997.84L66.82 997.27L67.78 996.67L68.72 996.04L69.65 995.38L70.57 994.69L71.47 993.97L72.36 993.23L73.25 992.47L74.12 991.68L74.98 990.87L75.84 990.04L76.68 989.19L77.52 988.33L78.35 987.45L79.18 986.55L81.82 988.84L81.02 989.81L80.20 990.76L79.38 991.71L78.54 992.64L77.69 993.55L76.82 994.46L75.94 995.34L75.04 996.21L74.12 997.06L73.19 997.89L72.23 998.69L71.26 999.48L70.26 1000.23L69.24 1000.96L68.19 1001.67L67.12 1002.34L66.03 1002.98L64.90 1003.59L63.75 1004.16L62.57 1004.69L61.37 1005.19L60.13 1005.65L58.86 1006.06L57.56 1006.43L56.23 1006.76L54.87 1007.04L53.48 1007.27L52.05 1007.46L50.59 1007.60L49.10 1007.70L47.21 1007.66L45.32 1007.52L43.44 1007.30L41.57 1006.99L39.71 1006.60L37.88 1006.12L36.07 1005.55L34.29 1004.90L32.55 1004.17L30.84 1003.36L29.16 1002.47L27.54 1001.50L25.96 1000.45L24.42 999.34L22.95 998.15L21.53 996.90L20.17 995.58L18.87 994.20L17.64 992.76L16.48 991.26L15.39 989.71L14.37 988.12L13.43 986.47L12.56 984.79L11.78 983.06L11.07 981.30L10.45 979.52L9.92 977.70L9.46 975.86L9.10 974.00Z" fill="#2090D6"/>
<path d="M80.50 987.70C92.81 973.49 102.43 955.60 122.00 955.60C137.87 955.60 146.41 967.38 154.94 979.15" fill="none" stroke="#A6409E" stroke-width="3.5" stroke-linecap="butt"/>
<path d="M154.94 979.15C163.46 990.93 171.98 1002.70 187.80 1002.70C203.76 1002.70 211.45 990.73 219.99 978.75" fill="none" stroke="#A6409E" stroke-width="3.6" stroke-linecap="butt"/>
<path d="M219.99 978.75C228.53 966.77 237.93 954.80 257.30 954.80C276.43 954.80 286.54 966.47 295.80 978.15" fill="none" stroke="#A6409E" stroke-width="3.8" stroke-linecap="butt"/>
<path d="M295.80 978.15C305.06 989.83 313.47 1001.50 329.20 1001.50C352.39 1001.50 359.70 976.13 372.80 959.70" fill="none" stroke="#A6409E" stroke-width="3.8" stroke-linecap="butt"/>
<text transform="translate(86.90,788.10) scale(0.99,1)" font-size="10" text-anchor="middle" font-weight="normal" fill="#1e1f24" stroke="#1e1f24" stroke-width="0.3">2002</text>
<line x1="87.3" y1="792.4000000000001" x2="87.3" y2="996.8" stroke="#111" stroke-width="0.95" stroke-dasharray="5 4.6"/>
<text transform="translate(217.20,788.10) scale(0.99,1)" font-size="10" text-anchor="middle" font-weight="normal" fill="#1e1f24" stroke="#1e1f24" stroke-width="0.3">2010</text>
<line x1="217.6" y1="792.4000000000001" x2="217.6" y2="996.8" stroke="#111" stroke-width="0.95" stroke-dasharray="5 4.6"/>
<text transform="translate(363.40,788.10) scale(0.99,1)" font-size="10" text-anchor="middle" font-weight="normal" fill="#1e1f24" stroke="#1e1f24" stroke-width="0.3">2016</text>
<line x1="363.8" y1="792.4000000000001" x2="363.8" y2="996.8" stroke="#111" stroke-width="0.95" stroke-dasharray="5 4.6"/>
<path d="M35.2 802.6H363.8M35.2 828.8000000000001H363.8" stroke="#7a7a7a" stroke-width="0.75" fill="none"/>
<path d="M363.8 802.6V828.8000000000001" stroke="#7a7a7a" stroke-width="0.75" fill="none"/>
<text transform="translate(152.45,812.40) scale(0.93,1)" font-size="9.1" text-anchor="middle" font-weight="normal" fill="#1e1f24" stroke="#1e1f24" stroke-width="0.3">ÁLVARO URIBE VÉLEZ</text>
<text transform="translate(290.70,812.40) scale(0.93,1)" font-size="9.1" text-anchor="middle" font-weight="normal" fill="#1e1f24" stroke="#1e1f24" stroke-width="0.3">JUAN MANUEL SANTOS</text>
<text transform="translate(37.70,811.70) scale(0.91,1)" font-size="9.1" text-anchor="start" font-weight="normal" fill="#1e1f24" stroke="#1e1f24" stroke-width="0.3">ARANGO</text>
<rect x="68.30" y="835.80" width="51.90" height="35.9" fill="#fff"/>
<rect x="122.60" y="835.80" width="73.80" height="35.9" fill="#fff"/>
<rect x="198.80" y="835.80" width="57.70" height="35.9" fill="#fff"/>
<rect x="258.90" y="835.80" width="39.10" height="35.9" fill="#fff"/>
<rect x="300.40" y="835.80" width="62.20" height="35.9" fill="#fff"/>
<rect x="67.1" y="835.8000000000001" width="296.70000000000005" height="35.9" fill="none" stroke="#000" stroke-width="0.9"/>
<path d="M121.4 835.8000000000001V871.7M197.6 835.8000000000001V871.7M257.7 835.8000000000001V871.7M299.2 835.8000000000001V871.7" stroke="#000" stroke-width="0.9" fill="none"/>
<text transform="translate(94.25,846.80) scale(0.9,1)" font-size="9.5" text-anchor="middle" font-weight="normal" fill="#1e1f24" stroke="#1e1f24" stroke-width="0.3">Antanas</text>
<text transform="translate(94.25,857.70) scale(0.9,1)" font-size="9.5" text-anchor="middle" font-weight="normal" fill="#1e1f24" stroke="#1e1f24" stroke-width="0.3">Mockus</text>
<text transform="translate(159.50,846.80) scale(0.9,1)" font-size="9.5" text-anchor="middle" font-weight="normal" fill="#1e1f24" stroke="#1e1f24" stroke-width="0.3">Luis Eduardo</text>
<text transform="translate(159.50,857.70) scale(0.9,1)" font-size="9.5" text-anchor="middle" font-weight="normal" fill="#1e1f24" stroke="#1e1f24" stroke-width="0.3">Garzón</text>
<text transform="translate(227.65,846.80) scale(0.9,1)" font-size="9.5" text-anchor="middle" font-weight="normal" fill="#1e1f24" stroke="#1e1f24" stroke-width="0.3">Samuel</text>
<text transform="translate(227.65,857.70) scale(0.9,1)" font-size="9.5" text-anchor="middle" font-weight="normal" fill="#1e1f24" stroke="#1e1f24" stroke-width="0.3">Moreno Rojas</text>
<text transform="translate(278.45,846.80) scale(0.9,1)" font-size="9.5" text-anchor="middle" font-weight="normal" fill="#1e1f24" stroke="#1e1f24" stroke-width="0.3">Clara</text>
<text transform="translate(278.45,857.70) scale(0.9,1)" font-size="9.5" text-anchor="middle" font-weight="normal" fill="#1e1f24" stroke="#1e1f24" stroke-width="0.3">López</text>
<text transform="translate(331.50,846.80) scale(0.9,1)" font-size="9.5" text-anchor="middle" font-weight="normal" fill="#1e1f24" stroke="#1e1f24" stroke-width="0.3">Gustavo Petro</text>
<line x1="48.8" y1="1007.4" x2="48.8" y2="1018.8" stroke="#2090D6" stroke-width="1.1"/>
<circle cx="48.8" cy="1021.8" r="3.0" fill="#fff" stroke="#2090D6" stroke-width="1"/>
<line x1="121.6" y1="953.9" x2="121.6" y2="933.3" stroke="#A6409E" stroke-width="1.1"/>
<circle cx="121.6" cy="930.3" r="3.0" fill="#fff" stroke="#A6409E" stroke-width="1"/>
<line x1="188.4" y1="1004.5" x2="188.4" y2="1016.2" stroke="#A6409E" stroke-width="1.1"/>
<circle cx="188.4" cy="1019.2" r="3.0" fill="#fff" stroke="#A6409E" stroke-width="1"/>
<line x1="257.2" y1="952.9" x2="257.2" y2="928.4" stroke="#A6409E" stroke-width="1.1"/>
<circle cx="257.2" cy="925.4" r="3.0" fill="#fff" stroke="#A6409E" stroke-width="1"/>
<line x1="329" y1="1003.4" x2="329" y2="1016.2" stroke="#A6409E" stroke-width="1.1"/>
<circle cx="329" cy="1019.2" r="3.0" fill="#fff" stroke="#A6409E" stroke-width="1"/>
<circle cx="49.1" cy="966.7" r="34" fill="#2090D6"/>
<g transform="translate(49.1,966.7) scale(1.24)"><rect x="-14.5" y="-15.8" width="24.2" height="32.4" fill="none" stroke="#fff" stroke-width="2"/><path d="M-9 -10.2H4.6" stroke="#fff" stroke-width="2.4" stroke-linecap="round"/><path d="M-11 -5.8H6M-11 -2.3H6M-11 1.1H5M-11 4.4H2" stroke="#fff" stroke-width="1.2"/><path d="M-7.5 13.2H-0.5M-6.3 13V9.8" stroke="#fff" stroke-width="1" fill="none"/><g transform="translate(-1.8,11.8) rotate(-45)"><path d="M0 0L6 -3.2H25.5A3.2 3.2 0 0 1 25.5 3.2H6Z" fill="#fff" stroke="#2090D6" stroke-width="0.9"/></g></g>
<circle cx="122" cy="987.7" r="27.1" fill="#A6409E"/>
<clipPath id="c12"><circle cx="0" cy="0" r="23.60"/></clipPath>
<g transform="translate(122,987.7)" clip-path="url(#c12)"><rect x="-28" y="-28" width="56" height="56" fill="url(#gBlue)"/><path d="M-28 -28H-4L-14 28H-28Z" fill="#e4edf4" filter="url(#bl2)"/><path d="M-12.6 -11L-18 14" stroke="#cdbfd2" stroke-width="1.3"/><path d="M-12.7 -10.4C-2.7 -7.4 9.4 -22.1 21.4 -17.1L21.6 -11.6C9.6 -17.0 -3.4 -2.5 -13.4 -5.1Z" fill="#dc3228"/><path d="M-13.4 -5.5C-3.4 -2.5 9.6 -17.0 21.6 -12.0L21.7 -8.0C9.7 -13.4 -3.8 1.0 -13.8 -1.6Z" fill="#f08c28"/><path d="M-13.8 -2.0C-3.8 1.0 9.7 -13.4 21.7 -8.4L21.8 -4.7C9.8 -10.1 -4.3 4.1 -14.3 1.5Z" fill="#f4dc3c"/><path d="M-14.3 1.1C-4.3 4.1 9.8 -10.1 21.8 -5.1L21.9 -1.1C9.9 -6.5 -4.7 7.7 -14.7 5.1Z" fill="#52b04c"/><path d="M-14.7 4.7C-4.7 7.7 9.9 -6.5 21.9 -1.5L22.0 2.6C10.0 -2.8 -5.2 11.2 -15.2 8.6Z" fill="#5aa0e0"/><path d="M-15.2 8.2C-5.2 11.2 10.0 -2.8 22.0 2.2L22.1 6.3C10.1 0.9 -5.7 14.8 -15.7 12.2Z" fill="#5a58b8"/><path d="M-15 10C-10 5 -6 13 -2 8C2 4 6 12 11 7C14 4 18 9 22 5" stroke="#4a3c94" stroke-width="2.4" fill="none" opacity="0.85"/></g>
<circle cx="187.8" cy="970.8" r="26" fill="#A6409E"/>
<clipPath id="c13"><circle cx="0" cy="0" r="22.50"/></clipPath>
<g transform="translate(187.8,970.8)" clip-path="url(#c13)"><rect x="-28" y="-28" width="56" height="56" fill="#5c6648"/><path d="M-28 -28H28V-6L10 -3L-6 -7L-28 -2Z" fill="#434c36"/><path d="M-24 -20L-12 -24L-8 -10L-22 -8Z" fill="#2f3828" filter="url(#bl2)"/><path d="M8 -22L22 -18L24 -6L10 -8Z" fill="#55643f" filter="url(#bl2)"/><path d="M-9 -20L4 -21L5 -7L-8 -6Z" fill="#8c7272" filter="url(#bl)"/><rect x="-6" y="-14" width="3" height="4" fill="#4a3c3c"/><path d="M-28 0L-8 2L10 -1L28 2V10H-28Z" fill="#7c8862"/><path d="M-28 10L28 9V28H-28Z" fill="#9c8c90"/><path d="M-20 12L-4 10L6 16L-10 20Z" fill="#76805c" filter="url(#bl)"/><path d="M4 10L20 9L22 16L8 18Z" fill="#bfb0b4" filter="url(#bl)"/><rect x="-26" y="-26" width="52" height="52" filter="url(#nz)" opacity="0.12"/></g>
<circle cx="257.3" cy="1001.8" r="37.7" fill="#A6409E"/>
<clipPath id="c14"><circle cx="0" cy="0" r="34.10"/></clipPath>
<g transform="translate(257.3,1001.8)" clip-path="url(#c14)"><rect x="-40" y="-40" width="80" height="80" fill="#6c9050"/><path d="M-30 -26L-8 -32L10 -30L20 -20L6 -10L-16 -8L-28 -14Z" fill="#93b672" filter="url(#bl2)"/><path d="M16 -22L30 -16L34 -2L24 4L12 -6Z" fill="#456a3c" filter="url(#bl2)"/><path d="M-36 -10L-26 -14L-22 -2L-34 4Z" fill="#3f5432" filter="url(#bl2)"/><path d="M0 -12L9 -14L10 -7L1 -5Z" fill="#3c5430" filter="url(#bl2)"/><path d="M22 -22L30 -28L34 -16Z" fill="#c2d0bc" filter="url(#bl)"/><path d="M-40 8L-22 3L-4 6L16 3L40 8V40H-40Z" fill="#8d888c"/><path d="M-30 0L-14 -4L-4 2L-12 10L-28 10Z" fill="#77743e" filter="url(#bl2)"/><ellipse cx="-9" cy="1" rx="6" ry="4" fill="#a09c44"/><ellipse cx="-22" cy="9" rx="6" ry="4" fill="#92924a"/><ellipse cx="-12" cy="7" rx="3.6" ry="2.6" fill="#45422a"/><ellipse cx="14" cy="3" rx="6" ry="4" fill="#80964c"/><ellipse cx="24" cy="10" rx="7" ry="4.5" fill="#5f8c46"/><path d="M-14 12L-2 8L12 9L20 13L14 17L2 15L-6 19L-4 30L-16 34L-18 22Z" fill="#e6e5ea" filter="url(#bl2)"/><ellipse cx="4" cy="12" rx="3.2" ry="2.6" fill="#46423a"/><ellipse cx="14" cy="26" rx="6" ry="4" fill="#8e7254"/><ellipse cx="-20" cy="28" rx="5" ry="3.5" fill="#57553a"/><ellipse cx="2" cy="25" rx="4" ry="3" fill="#6a645c"/><rect x="-37.7" y="-37.7" width="75.4" height="75.4" filter="url(#nz)" opacity="0.13"/></g>
<circle cx="329.2" cy="969.7" r="25.6" fill="#A6409E"/>
<g transform="translate(329.2,969.7) scale(1.0)"><rect x="-14.5" y="-15.8" width="24.2" height="32.4" fill="none" stroke="#fff" stroke-width="2"/><path d="M-9 -10.2H4.6" stroke="#fff" stroke-width="2.4" stroke-linecap="round"/><path d="M-11 -5.8H6M-11 -2.3H6M-11 1.1H5M-11 4.4H2" stroke="#fff" stroke-width="1.2"/><path d="M-7.5 13.2H-0.5M-6.3 13V9.8" stroke="#fff" stroke-width="1" fill="none"/><g transform="translate(-1.8,11.8) rotate(-45)"><path d="M0 0L6 -3.2H25.5A3.2 3.2 0 0 1 25.5 3.2H6Z" fill="#fff" stroke="#A6409E" stroke-width="0.9"/></g></g>
<rect x="17.1" y="1028.3" width="62.90" height="12" fill="#2090D6"/>
<text transform="translate(48.55,1037.00) scale(0.87,1)" font-size="9.6" text-anchor="middle" font-weight="normal" fill="#14365a" >2000</text>
<text font-size="5.2" font-weight="bold" text-anchor="middle" fill="#0c0c0c"><tspan x="48.55" y="1047.40">Recomposición social</tspan><tspan x="48.55" y="1054.15">urbana, experiencia</tspan><tspan x="48.55" y="1060.90">Barrio Juan XXIII por el</tspan><tspan x="48.55" y="1067.65">Laboratorio de</tspan><tspan x="48.55" y="1074.40">Recomposición Social.</tspan></text>
<rect x="91" y="890" width="61.80" height="11.5" fill="#A6409E"/>
<text transform="translate(121.90,898.20) scale(0.87,1)" font-size="9.6" text-anchor="middle" font-weight="normal" fill="#33203a" >2006</text>
<text font-size="5.2" font-weight="bold" text-anchor="middle" fill="#0c0c0c"><tspan x="121.90" y="908.60">Declaración de una parte</tspan><tspan x="121.90" y="915.35">de la localidad como la</tspan><tspan x="121.90" y="922.10">zona gay de Bogotá.</tspan></text>
<rect x="157.2" y="1029" width="62.60" height="11.3" fill="#A6409E"/>
<text transform="translate(188.50,1037.00) scale(0.87,1)" font-size="9.6" text-anchor="middle" font-weight="normal" fill="#33203a" >2009</text>
<text font-size="5.2" font-weight="bold" text-anchor="middle" fill="#0c0c0c"><tspan x="188.50" y="1048.20">Recuperación de la</tspan><tspan x="188.50" y="1054.95">Quebrada Vieja.</tspan></text>
<rect x="226.1" y="890" width="62.60" height="11.5" fill="#A6409E"/>
<text transform="translate(257.40,898.20) scale(0.87,1)" font-size="9.6" text-anchor="middle" font-weight="normal" fill="#33203a" >2011</text>
<text font-size="5.2" font-weight="bold" text-anchor="middle" fill="#0c0c0c"><tspan x="257.40" y="908.60">Recuperación de la</tspan><tspan x="257.40" y="915.35">Quebrada Moraci.</tspan></text>
<rect x="298.4" y="1029" width="61.30" height="11.3" fill="#A6409E"/>
<text transform="translate(329.05,1037.00) scale(0.87,1)" font-size="9.6" text-anchor="middle" font-weight="normal" fill="#33203a" >2012</text>
<text font-size="5.2" font-weight="bold" text-anchor="middle" fill="#0c0c0c"><tspan x="329.05" y="1048.20">Recomposición social y</tspan><tspan x="329.05" y="1054.95">urbana, experiencia</tspan><tspan x="329.05" y="1061.70">barrio Bosque Calderón</tspan><tspan x="329.05" y="1068.45">por el Laboratorio de</tspan><tspan x="329.05" y="1075.20">Recomposición Social.</tspan></text>
</svg></body></html>
